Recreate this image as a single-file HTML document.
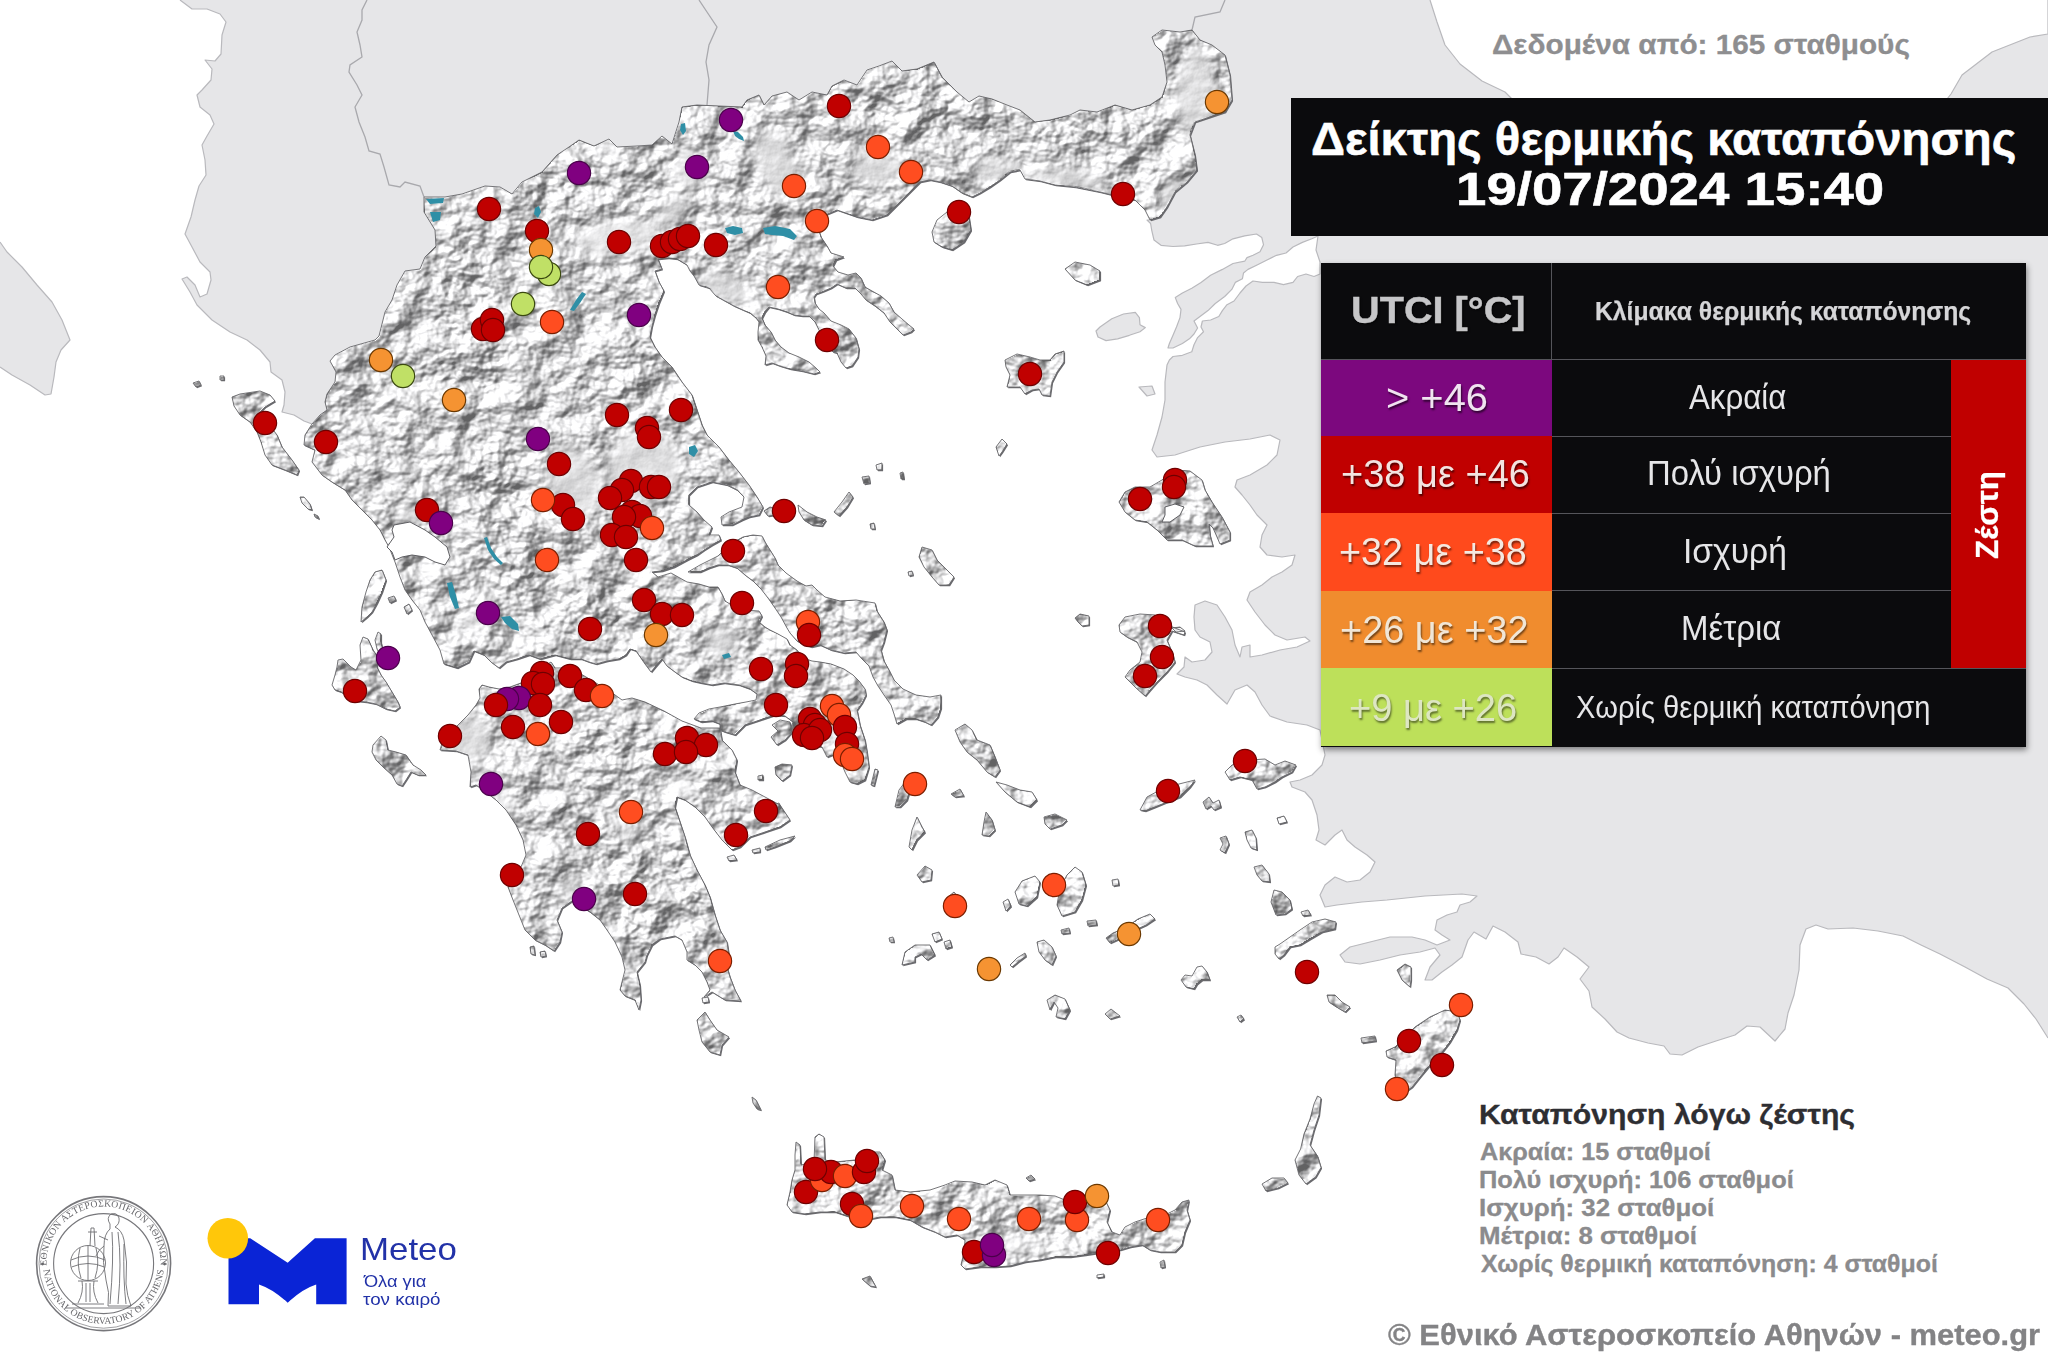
<!DOCTYPE html>
<html><head><meta charset="utf-8"><title>UTCI</title>
<style>
html,body{margin:0;padding:0;background:#fff;}
body{width:2048px;height:1360px;position:relative;overflow:hidden;font-family:"Liberation Sans",sans-serif;}
.abs{position:absolute;white-space:nowrap;line-height:1;}
.b{font-weight:bold;}
#title{position:absolute;left:1290.7px;top:98.1px;width:758px;height:138.1px;background:#0b0b0d;}
#legend{position:absolute;left:1321px;top:263px;width:704.7px;height:483.5px;background:#0b0b0d;box-shadow:1px 3px 6px rgba(0,0,0,.45);}
.cell{position:absolute;}
.hl{position:absolute;height:1.2px;background:#55555a;}
.vl{position:absolute;width:1.2px;background:#55555a;}

#t1,#t2{-webkit-text-stroke:0.55px #fff;}
#t0{-webkit-text-stroke:0.3px #8e8e90;}
#k0{-webkit-text-stroke:0.35px #2e2e32;}
#k1,#k2,#k3,#k4,#k5{-webkit-text-stroke:0.3px #8b8b8d;}
#cp{-webkit-text-stroke:0.35px #838385;}
#l0{-webkit-text-stroke:0.4px #c6c6c8;}
#l1{-webkit-text-stroke:0.25px #d6d6d8;}
#z{-webkit-text-stroke:0.3px #fff;}

</style></head><body>
<svg width="2048" height="1360" viewBox="0 0 2048 1360" style="position:absolute;left:0;top:0">
<defs>
<filter id="relief" x="0" y="0" width="2048" height="1360" filterUnits="userSpaceOnUse" color-interpolation-filters="sRGB">
<feColorMatrix in="SourceGraphic" type="matrix" values="0 0 0 0 0  0 0 0 0 0  0 0 0 0 0  1 0 0 0 0" result="amp"/>
<feTurbulence type="fractalNoise" baseFrequency="0.028 0.033" numOctaves="4" seed="11" result="n0"/>
<feGaussianBlur in="n0" stdDeviation="0.7" result="n"/>
<feComposite in="n" in2="amp" operator="arithmetic" k1="1" k2="0" k3="-0.5" k4="0.5" result="h"/>
<feDiffuseLighting in="h" surfaceScale="15.5" diffuseConstant="1" lighting-color="#ffffff" result="l">
<feDistantLight azimuth="225" elevation="45"/>
</feDiffuseLighting>
<feComponentTransfer in="l" result="l2"><feFuncR type="linear" slope="0.68" intercept="0.385"/><feFuncG type="linear" slope="0.68" intercept="0.385"/><feFuncB type="linear" slope="0.68" intercept="0.39"/></feComponentTransfer>
<feComposite in="l2" in2="SourceAlpha" operator="in"/>
</filter>
<filter id="blur6" x="-40%" y="-40%" width="180%" height="180%"><feGaussianBlur stdDeviation="6"/></filter>
<filter id="blur5" x="-30%" y="-30%" width="160%" height="160%"><feGaussianBlur stdDeviation="5"/></filter>
<filter id="soft" x="-5%" y="-5%" width="110%" height="110%"><feGaussianBlur stdDeviation="1.2"/></filter>
</defs>
<rect width="2048" height="1360" fill="#ffffff"/>
<g fill="#e6e6e8" stroke="none">
<path d="M0,242 7,252 22,267 37,285 52,302 62,320 70,340 61,350 56,362 54,377 51,394 45,395 30,385 12,375 0,367Z"/>
<path d="M180,0 192,9 207,9 220,14 226,22 222,35 221,54 215,61 205,60 212,69 211,80 202,90 197,95 200,107 210,115 214,124 207,136 202,145 205,160 206,175 199,186 195,200 191,217 185,234 192,247 200,262 210,272 211,280 207,294 200,297 195,285 187,277 182,279 190,292 197,305 212,320 230,332 247,340 260,350 270,362 271,372 282,380 285,392 284,405 282,412 294,415 304,421 312,424 320,415 327,410 325,402 327,394 335,382 336,372 330,361 335,355 350,347 375,340 379,336 380,332 385,312 392,300 397,285 405,271 420,269 425,257 436,246 435,230 424,212 424,197 445,197 462,194 485,186 500,187 512,194 522,182 542,172 557,155 569,147 579,140 594,146 609,139 617,147 637,146 652,145 662,136 672,144 679,122 682,107 697,105 719,106 742,107 747,100 759,95 764,105 772,96 787,92 799,100 812,92 827,95 832,86 844,80 857,85 867,70 879,66 892,61 902,71 917,69 934,62 942,77 957,92 969,102 979,96 992,99 1007,105 1020,110 1035,122 1050,120 1070,115 1080,110 1097,112 1115,105 1132,110 1150,105 1162,97 1167,82 1165,65 1162,52 1155,45 1152,37 1162,30 1180,32 1192,30 1200,40 1212,45 1225,55 1230,75 1232,100 1225,112 1210,117 1195,122 1190,135 1195,155 1197,170 1187,182 1175,192 1167,207 1160,217 1150,220 1147,220 1150.6,223.5 1151.8,230.6 1154,240 1161,245.3 1173,246.5 1184.7,245.9 1196.5,244 1208,242.4 1217.6,245.3 1224.7,243.5 1233,238.8 1244.7,235.9 1256.5,234 1261.8,237.6 1263.5,244.7 1260,251.8 1253,255.3 1247,257.6 1244.7,261.2 1233,263.5 1222.4,269.4 1210.6,275.3 1201,282.4 1191.8,288.2 1182.4,293 1175.3,297.6 1177.6,303.5 1181,309.4 1180,317.6 1176.5,327 1173,335.3 1169.4,343.5 1168,348 1173,348 1182.4,343.5 1189.4,338.8 1194,334 1197.6,328 1194,321 1200,316.5 1208,310.6 1215.3,303.5 1224.7,296.5 1231.8,289.4 1235.3,282.4 1242.4,278.8 1243.5,273 1248,269.4 1257.6,264.7 1267,260 1276.5,255.3 1286,253 1293,247 1302.4,242.4 1311.8,238.8 1318,236 2048,236 2048,0Z"/>
<path d="M1318,236 1316,250 1320,262 1320,274 1314,276.5 1306,274 1297.6,276.5 1293,282.4 1283.5,284.7 1274,282.4 1262.4,282.4 1253,281 1246,286 1240,293 1234,301 1227,304.7 1222.4,310.6 1218.8,316.5 1210.6,320 1202.4,321 1201,327 1203.5,331.8 1197.6,337.6 1194,344.7 1191.8,351.8 1182.4,355.3 1173,356.5 1169.4,360 1167,365 1165,382 1165,400 1162,417 1157,435 1152,450 1157,457 1175,455 1200,447 1225,442 1250,439 1270,435 1280,440 1277,455 1267,465 1250,475 1237,480 1235,487 1242,495 1250,505 1257,515 1267,525 1262,535 1260,547 1267,555 1282,557 1295,555 1292,565 1282,572 1272,577 1262,585 1250,592 1247,600 1255,612 1265,625 1275,635 1287,640 1305,637 1310,641 1297,647 1280,650 1262,655 1250,657 1250,645 1242,647 1240,657 1235,645 1232,630 1225,617 1217,605 1205,601 1195,605 1194,617 1195,630 1200,637 1210,642 1212,652 1205,660 1192,662 1185,657 1184,667 1177,674 1185,677 1197,680 1207,685 1217,695 1227,704 1235,690 1247,685 1255,692 1262,705 1270,716 1287,722 1307,725 1320,730 1325,755 1322,765 1312,775 1300,780 1290,782 1292,787 1305,792 1312,800 1317,815 1319,830 1316,840 1325,845 1335,835 1342,830 1347,840 1355,847 1367,855 1375,862 1370,872 1360,880 1347,882 1335,877 1325,885 1320,895 1325,907 1337,905 1362,902 1387,900 1425,896 1462,894 1477,896 1470,902 1460,905 1457,912 1447,915 1437,920 1435,930 1442,935 1450,940 1437,945 1425,940 1412,937 1390,937 1370,942 1350,947 1340,955 1345,962 1360,964 1380,960 1400,955 1420,952 1435,948 1440,955 1430,967 1425,980 1432,980 1442,972 1452,965 1462,957 1468,940 1474,932 1486,939 1493,926 1505,932 1518,942 1521,954 1536,957 1549,964 1558,957 1564,948 1577,957 1589,967 1580,979 1589,991 1592,1007 1605,1019 1617,1032 1629,1038 1648,1043 1664,1046 1670,1054 1682,1055 1698,1047 1716,1041 1735,1035 1747,1026 1760,1027 1775,1041 1785,1029 1788,1013 1794,995 1799,970 1800,945 1806,929 1816,925 1828,929 1853,928 1878,931 1903,936 1921,945 1940,954 1965,967 1987,979 2008,988 2024,1004 2036,1019 2048,1038 2048,1038 2048,236Z"/>
<path d="M1100,327 1111.8,318.8 1123.5,314 1135.3,312.4 1139.4,317.6 1140,324.7 1145.3,327.6 1140,331.8 1129.4,335.3 1117.6,338.8 1106,340.6 1098,337 1096,331Z"/><path d="M1139,387 1152,386 1155,394 1147,396Z"/>
</g>
<path d="M1430,0 1437,22 1445,45 1460,64 1482,81 1505,92 1512,99 1512,110 1947,110 1947,99 1951,94 1962,75 1992,52 2030,37 2048,34 2048,0Z" fill="#fff"/>
<g fill="none" stroke="#b9b9bd" stroke-width="1.2" stroke-linejoin="round">
<path d="M0,242 7,252 22,267 37,285 52,302 62,320 70,340 61,350 56,362 54,377 51,394 45,395 30,385 12,375 0,367"/>
<path d="M180,0 192,9 207,9 220,14 226,22 222,35 221,54 215,61 205,60 212,69 211,80 202,90 197,95 200,107 210,115 214,124 207,136 202,145 205,160 206,175 199,186 195,200 191,217 185,234 192,247 200,262 210,272 211,280 207,294 200,297 195,285 187,277 182,279 190,292 197,305 212,320 230,332 247,340 260,350 270,362 271,372 282,380 285,392 284,405 282,412 294,415 304,421 312,424"/>
<path d="M1150,220 1147,220 1150.6,223.5 1151.8,230.6 1154,240 1161,245.3 1173,246.5 1184.7,245.9 1196.5,244 1208,242.4 1217.6,245.3 1224.7,243.5 1233,238.8 1244.7,235.9 1256.5,234 1261.8,237.6 1263.5,244.7 1260,251.8 1253,255.3 1247,257.6 1244.7,261.2 1233,263.5 1222.4,269.4 1210.6,275.3 1201,282.4 1191.8,288.2 1182.4,293 1175.3,297.6 1177.6,303.5 1181,309.4 1180,317.6 1176.5,327 1173,335.3 1169.4,343.5 1168,348 1173,348 1182.4,343.5 1189.4,338.8 1194,334 1197.6,328 1194,321 1200,316.5 1208,310.6 1215.3,303.5 1224.7,296.5 1231.8,289.4 1235.3,282.4 1242.4,278.8 1243.5,273 1248,269.4 1257.6,264.7 1267,260 1276.5,255.3 1286,253 1293,247 1302.4,242.4 1311.8,238.8 1318,236"/>
<path d="M1318,236 1316,250 1320,262 1320,274 1314,276.5 1306,274 1297.6,276.5 1293,282.4 1283.5,284.7 1274,282.4 1262.4,282.4 1253,281 1246,286 1240,293 1234,301 1227,304.7 1222.4,310.6 1218.8,316.5 1210.6,320 1202.4,321 1201,327 1203.5,331.8 1197.6,337.6 1194,344.7 1191.8,351.8 1182.4,355.3 1173,356.5 1169.4,360 1167,365 1165,382 1165,400 1162,417 1157,435 1152,450 1157,457 1175,455 1200,447 1225,442 1250,439 1270,435 1280,440 1277,455 1267,465 1250,475 1237,480 1235,487 1242,495 1250,505 1257,515 1267,525 1262,535 1260,547 1267,555 1282,557 1295,555 1292,565 1282,572 1272,577 1262,585 1250,592 1247,600 1255,612 1265,625 1275,635 1287,640 1305,637 1310,641 1297,647 1280,650 1262,655 1250,657 1250,645 1242,647 1240,657 1235,645 1232,630 1225,617 1217,605 1205,601 1195,605 1194,617 1195,630 1200,637 1210,642 1212,652 1205,660 1192,662 1185,657 1184,667 1177,674 1185,677 1197,680 1207,685 1217,695 1227,704 1235,690 1247,685 1255,692 1262,705 1270,716 1287,722 1307,725 1320,730 1325,755 1322,765 1312,775 1300,780 1290,782 1292,787 1305,792 1312,800 1317,815 1319,830 1316,840 1325,845 1335,835 1342,830 1347,840 1355,847 1367,855 1375,862 1370,872 1360,880 1347,882 1335,877 1325,885 1320,895 1325,907 1337,905 1362,902 1387,900 1425,896 1462,894 1477,896 1470,902 1460,905 1457,912 1447,915 1437,920 1435,930 1442,935 1450,940 1437,945 1425,940 1412,937 1390,937 1370,942 1350,947 1340,955 1345,962 1360,964 1380,960 1400,955 1420,952 1435,948 1440,955 1430,967 1425,980 1432,980 1442,972 1452,965 1462,957 1468,940 1474,932 1486,939 1493,926 1505,932 1518,942 1521,954 1536,957 1549,964 1558,957 1564,948 1577,957 1589,967 1580,979 1589,991 1592,1007 1605,1019 1617,1032 1629,1038 1648,1043 1664,1046 1670,1054 1682,1055 1698,1047 1716,1041 1735,1035 1747,1026 1760,1027 1775,1041 1785,1029 1788,1013 1794,995 1799,970 1800,945 1806,929 1816,925 1828,929 1853,928 1878,931 1903,936 1921,945 1940,954 1965,967 1987,979 2008,988 2024,1004 2036,1019 2048,1038"/>
<path d="M1430,0 1437,22 1445,45 1460,64 1482,81 1505,92 1512,99"/>
<path d="M1947,99 1951,94 1962,75 1992,52 2030,37 2048,34 2048,0"/>
<path d="M1100,327 1111.8,318.8 1123.5,314 1135.3,312.4 1139.4,317.6 1140,324.7 1145.3,327.6 1140,331.8 1129.4,335.3 1117.6,338.8 1106,340.6 1098,337 1096,331Z"/><path d="M1139,387 1152,386 1155,394 1147,396Z"/>
</g>
<g fill="none" stroke="#a9a9ad" stroke-width="1.3">
<path d="M367,0 362,10 362,20 357,32 360,45 362,57 350,65 349,72 357,85 362,95 355,107 359,122 365,137 369,151 380,154 384,167 389,185 400,187 405,182 420,186 424,197"/>
<path d="M699,0 707,12 717,27 709,45 706,62 709,80 707,105"/>
<path d="M1225,0 1220,12 1195,17 1192,30"/>
</g>
<path d="M424,197 445,197 462,194 485,186 500,187 512,194 522,182 542,172 557,155 569,147 579,140 594,146 609,139 617,147 637,146 652,145 662,136 672,144 679,122 682,107 697,105 719,106 742,107 747,100 759,95 764,105 772,96 787,92 799,100 812,92 827,95 832,86 844,80 857,85 867,70 879,66 892,61 902,71 917,69 934,62 942,77 957,92 969,102 979,96 992,99 1007,105 1020,110 1035,122 1050,120 1070,115 1080,110 1097,112 1115,105 1132,110 1150,105 1162,97 1167,82 1165,65 1162,52 1155,45 1152,37 1162,30 1180,32 1192,30 1200,40 1212,45 1225,55 1230,75 1232,100 1225,112 1210,117 1195,122 1190,135 1195,155 1197,170 1187,182 1175,192 1167,207 1160,217 1150,220 1145,210 1135,200 1120,197 1100,192 1075,187 1055,185 1040,181 1025,179 1020,170 1010,172 1000,180 990,187 980,193 972,197 962,193 952,186 940,182 930,180 920,182 912,190 902,200 887,215 872,220 857,217 837,210 825,215 816,222 821,237 827,246 831,253 844,257 836,260 833,266 838,272 848,275 856,273 861,278 865,287 872,291 881,296 889,303 894,312 902,319 909,325 914,329 911,332 903,335 897,329 890,322 884,313 875,306 866,300 861,294 855,288 846,288 837,284 831,288 824,291 816,294 814,297 815,303 819,309 824,313 831,321 841,325 849,329 856,338 859,349 858,357 852,366 846,368 841,362 837,353 833,352 826,345 820,332 815,322 809,316 802,316 794,315 787,312 778,309 769,307 765,312 762,318 765,325 771,332 775,340 781,347 789,353 799,357 809,362 816,368 820,372 814,374 802,371 790,369 780,366 772,363 765,365 766,356 762,347 758,340 758,332 759,322 756,318 750,313 743,310 734,306 725,301 716,296 709,288 699,285 694,276 690,271 687,265 677,259 668,258 658,259 662,269 655,271 659,282 664,291 659,303 655,315 652,326 650,337 655,347 662,357 672,367 682,382 692,395 697,410 702,425 707,435 719,447 729,460 739,472 749,485 757,497 763,507 759,515 749,517 742,520 732,525 722,525 721,517 729,512 742,507 744,497 737,490 727,485 712,482 697,487 689,495 689,505 697,512 704,520 712,527 709,535 719,535 721,540 712,545 704,550 697,555 687,560 674,567 662,571 652,572 658,577 671,573 687,582 699,584 709,587 718,587 722,594 725,601 740,610 759,611 762,616 759,622 765,627 770,630 778,634 787,639 790,645 797,650 803,658 812,661 820,662 831,664 844,669 853,675 859,681 865,689 866,695 862,703 857,710 860,725 865,740 867,752 869,767 865,780 857,784 850,782 845,772 840,760 832,755 827,757 822,747 812,745 802,745 795,735 790,730 793,722 785,716 775,715 760,720 745,725 735,735 725,732 720,730 720,724 712,721 701,722 694,719 699,713 709,709 720,707 735,704 746,702 756,700 757,694 750,689 739,685 724,683 712,685 701,683 692,681 682,677 675,672 667,666 662,659 656,666 651,672 645,664 636,651 630,649 626,655 619,659 607,661 596,664 589,662 581,659 570,659 555,655 540,659 529,655 517,659 506,662 499,668 491,662 484,655 474,651 469,662 457,668 444,664 440,650 432,635 425,622 420,610 412,600 405,590 400,577 395,562 389,547 385,540 380,530 372,520 362,510 352,500 345,490 332,482 322,475 312,462 315,450 304,445 305,435 312,424 320,415 327,410 325,402 327,394 335,382 336,372 330,361 335,355 350,347 375,340 379,336 380,332 385,312 392,300 397,285 405,271 420,269 425,257 436,246 435,230 424,212 424,197Z M720,728 722,740 732,750 737,760 735,772 740,785 752,790 765,797 780,805 790,820 780,827 765,832 750,837 740,847 732,850 722,840 712,827 705,817 695,807 685,800 677,797 675,807 680,822 685,837 690,855 697,870 705,885 710,897 715,915 720,930 727,942 729,955 727,967 730,977 735,990 741,1001 725,1000 712,992 704,997 710,990 707,982 702,972 695,965 687,960 687,952 682,940 675,936 660,939 652,945 647,955 645,962 637,972 640,985 641,1000 639,1010 635,1000 625,996 620,990 622,982 625,970 622,957 615,942 607,930 600,920 590,912 572,901 562,908 557,920 562,932 560,942 554,951 545,945 535,940 525,930 519,915 513,900 508,887 513,877 521,867 526,855 523,840 516,825 506,810 496,800 486,792 476,785 470,787 471,772 468,755 456,751 440,750 443,740 456,727 468,715 476,705 480,698 479,689 482,685 489,687 499,689 510,687 521,683 532,676 541,668 551,662 555,668 566,668 581,674 596,683 611,692 622,700 632,698 645,702 664,711 682,721 701,728Z M688,572 700,565 710,560 718,556 724,550 734,542 743,537 753,535 762,536 765,542 770,550 775,558 778,565 786,573 797,581 806,586 812,585 817,590 825,597 840,601 856,600 875,603 877,611 884,622 887,630 884,642 881,650 884,661 889,670 894,680 903,689 916,695 930,697 941,695 941,708 938,717 931,725 925,722 916,719 906,719 897,724 894,714 891,705 884,695 878,686 873,677 869,666 862,659 856,652 844,653 831,650 820,645 811,647 803,644 797,641 790,633 787,628 781,617 775,608 768,598 761,589 753,581 745,575 737,568 728,565 718,565 709,568 700,572Z M232,397 240,394 260,391 270,395 275,401 265,407 260,412 267,422 277,435 282,447 292,460 299,470 297,475 285,470 272,465 265,455 261,442 257,432 250,422 240,415 234,406Z M300,497 304,497 310,504 312,510 308,509 302,503Z M314,514 318,516 319,519 315,517Z M193,383 199,381 201,385 196,387Z M220,376 224,376 224,380 220,380Z M375,572 382,570 386,580 382,592 377,603 372,612 367,617 361,622 362,607 366,592 370,580Z M338,660 343,659 351,667 356,670 361,660 360,645 363,637 368,639 373,650 378,657 377,667 381,675 386,682 392,692 398,702 400,707 395,711 386,709 376,704 366,702 356,701 348,697 341,692 335,690 332,685 335,675 337,667Z M375,640 378,632 381,634 381,642 383,650 380,655 377,649Z M373,745 381,736 386,740 388,750 396,752 406,755 413,765 421,770 426,775 418,775 411,772 406,780 402,786 397,784 392,775 383,767 376,760 372,752Z M388,598 394,596 396,600 390,603Z M404,607 409,604 412,610 407,614Z M932,232 937,220 947,212 962,210 969,217 971,230 964,242 952,250 942,247 934,242Z M1065,269 1075,262 1090,265 1100,271 1100,280 1087,285 1075,280Z M1005,360 1017,354 1030,357 1040,360 1050,360 1055,354 1064,351 1064,362 1057,372 1052,382 1050,396 1042,395 1039,389 1032,390 1025,394 1020,387 1007,387 1010,375 1006,367Z M996,447 1002,439 1007,444 1002,452 999,456Z M1119,502 1125,492 1135,487 1150,487 1162,480 1175,470 1190,471 1202,480 1205,490 1212,502 1222,517 1230,532 1230,540 1220,544 1217,537 1213,528 1209,524 1210,535 1213,546 1195,546 1182,540 1167,540 1157,530 1147,522 1135,520 1125,512Z M764,511 770,507 777,509 775,515 768,516Z M798,505 807,512 817,517 826,520 822,526 812,525 804,520 799,512Z M834,512 842,502 849,492 853,497 847,507 839,516Z M862,477 869,476 870,483 864,484Z M876,465 882,463 882,470 877,470Z M900,473 903,472 904,479 901,479Z M870,524 874,523 875,529 871,529Z M922,547 932,550 937,560 947,570 954,577 949,585 939,585 932,577 924,567 919,557Z M908,572 912,571 913,575 909,576Z M1075,618 1080,614 1089,616 1089,625 1082,626 1078,622Z M1119,625 1125,617 1140,614 1155,615 1170,626 1185,632 1184,635 1172,631 1167,640 1172,652 1175,662 1167,672 1157,682 1150,690 1145,696 1135,687 1125,677 1130,670 1140,662 1142,652 1137,642 1127,637 1120,632Z M1225,772 1232,765 1250,760 1265,759 1275,765 1285,761 1296,765 1292,772 1282,777 1275,782 1265,787 1257,789 1252,780 1240,777 1230,780Z M1140,810 1147,797 1160,790 1175,785 1195,780 1190,787 1180,797 1167,802 1155,807 1145,811Z M1203,802 1209,797 1213,803 1219,800 1221,807 1214,810 1211,806 1206,809Z M1220,838 1226,836 1229,844 1225,853 1220,850 1223,844Z M1245,832 1252,830 1256,838 1257,850 1251,848 1247,840Z M1277,818 1284,816 1287,822 1279,824Z M1254,867 1262,865 1269,874 1270,882 1262,881 1257,875Z M1271,902 1274,890 1282,892 1290,900 1292,909 1285,914 1276,915Z M1301,912 1308,910 1311,915 1303,916Z M1275,947 1280,944 1290,937 1300,930 1312,922 1325,919 1336,922 1335,929 1322,932 1310,939 1300,945 1290,947 1284,955 1279,959 1275,954Z M1237,1017 1241,1015 1244,1019 1240,1022Z M1327,995 1335,995 1342,1002 1350,1007 1345,1012 1335,1006 1329,1002Z M1397,970 1405,964 1411,967 1411,980 1410,987 1402,980Z M1361,1038 1375,1036 1376,1041 1362,1043Z M1457,1012 1445,1010 1430,1017 1415,1027 1405,1037 1395,1047 1386,1051 1387,1057 1396,1060 1395,1075 1397,1085 1405,1092 1412,1087 1420,1077 1430,1065 1440,1055 1450,1042 1457,1030 1460,1020Z M1317.5,1096 1321,1098 1319,1115 1314,1130 1310,1145 1317.5,1156 1321,1167.5 1315.6,1177 1306,1184 1299,1175 1295,1160 1300.6,1149 1304,1134 1310,1119 1314,1104Z M1262,1184 1272,1178 1284,1178 1288,1183 1278,1188 1266,1191Z M1181,980 1185,975 1192,976 1197,967 1202,966 1207,972 1210,980 1202,980 1197,984 1194,989 1186,987Z M1106,938 1113,933 1125,928 1138,919 1150,914 1155,919 1146,925 1133,931 1121,938 1110,943Z M1057,905 1062,916 1075,912 1082,900 1086,885 1082,872 1075,867 1067,875 1060,888Z M1015,892 1022,881 1035,876 1040,882 1037,897 1027,906 1019,904Z M1003,902 1008,899 1011,906 1006,911Z M1037,942 1044,940 1052,947 1056,956 1052,965 1045,960 1039,952Z M1010,965 1017,958 1025,953 1026,956 1018,962 1012,967Z M985,972 992,966 996,968 990,975Z M1047,1000 1055,995 1065,999 1070,1010 1065,1019 1056,1017 1058,1008 1054,1002 1050,1010Z M1105,1014 1111,1009 1120,1016 1110,1019Z M1061,930 1069,928 1070,933 1062,934Z M1087,921 1096,920 1097,925 1088,926Z M1112,880 1118,879 1119,885 1113,886Z M1044,817 1055,814 1067,820 1062,825 1050,829 1045,824Z M996,782 1007,785 1020,790 1032,792 1037,800 1030,807 1017,802 1005,792Z M955,730 965,724 972,730 977,740 990,745 995,757 1000,770 995,777 987,772 977,760 967,752 960,742Z M982,835 984,822 986,812 992,820 995,830 989,836Z M951,794 960,789 964,796 955,797Z M895,807 899,790 905,782 910,790 907,800 900,807Z M871,785 875,769 878,770 874,786Z M909,847 912,830 917,817 922,827 925,832 917,840 912,850Z M917,875 925,866 932,870 931,880 922,882Z M948,897 954,892 960,900 962,912 956,916 950,908Z M902,965 905,952 915,945 930,945 935,955 927,960 921,954 915,957 915,962Z M932,934 939,932 942,939 935,942Z M944,942 950,940 952,947 946,949Z M889,938 893,937 894,942 890,942Z M775,767 782,764 792,765 790,775 782,781 776,775Z M772,725 780,720 790,722 792,732 785,740 777,745 771,737 778,731Z M758,776 763,775 763,780 758,780Z M770,806 779,803 781,808 772,810Z M765,847 780,840 795,836 790,841 775,847 766,850Z M752,850 760,848 760,852 753,853Z M727,857 734,855 737,860 729,861Z M697,1020 705,1012 710,1020 717,1030 729,1037 722,1045 720,1055 710,1052 702,1042 699,1030Z M752,1097 756,1100 761,1110 757,1109 753,1103Z M702,998 708,997 709,1002 703,1003Z M530,947 534,946 535,955 531,954Z M540,952 545,951 546,956 541,957Z M796,1142 800,1145 801,1165 814,1162 815,1137 819,1134 824,1137 825,1160 835,1162 855,1160 865,1152 880,1152 885,1160 882,1170 892,1175 895,1190 910,1192 930,1190 945,1185 955,1181 972,1182 985,1185 995,1180 1007,1185 1010,1195 1025,1195 1040,1195 1055,1196 1065,1200 1085,1195 1105,1200 1110,1210 1107,1222 1112,1232 1120,1235 1125,1227 1135,1222 1150,1217 1165,1215 1175,1210 1182,1202 1189,1200 1187,1210 1190,1220 1185,1232 1182,1245 1175,1252 1160,1252 1150,1250 1142,1245 1130,1247 1120,1250 1105,1252 1085,1255 1070,1257 1055,1257 1040,1260 1025,1262 1010,1266 995,1267 980,1267 965,1269 961,1265 964,1252 965,1240 957,1235 945,1237 935,1232 922,1227 910,1220 895,1217 880,1217 865,1220 850,1217 835,1212 820,1212 805,1214 792,1212 787,1205 790,1192 792,1180 795,1170 795,1155Z M862,1279 870,1276 876,1287 870,1286Z M1026,1178 1031,1175 1035,1179 1029,1181Z M1097,1275 1104,1274 1104,1277 1097,1278Z M1160,1262 1164,1260 1165,1267 1161,1268Z M1172,628 1180,627 1185,631 1176,632Z" fill="#6a6a6e" transform="translate(1.1,1.3)"/>
<clipPath id="grclip"><path d="M424,197 445,197 462,194 485,186 500,187 512,194 522,182 542,172 557,155 569,147 579,140 594,146 609,139 617,147 637,146 652,145 662,136 672,144 679,122 682,107 697,105 719,106 742,107 747,100 759,95 764,105 772,96 787,92 799,100 812,92 827,95 832,86 844,80 857,85 867,70 879,66 892,61 902,71 917,69 934,62 942,77 957,92 969,102 979,96 992,99 1007,105 1020,110 1035,122 1050,120 1070,115 1080,110 1097,112 1115,105 1132,110 1150,105 1162,97 1167,82 1165,65 1162,52 1155,45 1152,37 1162,30 1180,32 1192,30 1200,40 1212,45 1225,55 1230,75 1232,100 1225,112 1210,117 1195,122 1190,135 1195,155 1197,170 1187,182 1175,192 1167,207 1160,217 1150,220 1145,210 1135,200 1120,197 1100,192 1075,187 1055,185 1040,181 1025,179 1020,170 1010,172 1000,180 990,187 980,193 972,197 962,193 952,186 940,182 930,180 920,182 912,190 902,200 887,215 872,220 857,217 837,210 825,215 816,222 821,237 827,246 831,253 844,257 836,260 833,266 838,272 848,275 856,273 861,278 865,287 872,291 881,296 889,303 894,312 902,319 909,325 914,329 911,332 903,335 897,329 890,322 884,313 875,306 866,300 861,294 855,288 846,288 837,284 831,288 824,291 816,294 814,297 815,303 819,309 824,313 831,321 841,325 849,329 856,338 859,349 858,357 852,366 846,368 841,362 837,353 833,352 826,345 820,332 815,322 809,316 802,316 794,315 787,312 778,309 769,307 765,312 762,318 765,325 771,332 775,340 781,347 789,353 799,357 809,362 816,368 820,372 814,374 802,371 790,369 780,366 772,363 765,365 766,356 762,347 758,340 758,332 759,322 756,318 750,313 743,310 734,306 725,301 716,296 709,288 699,285 694,276 690,271 687,265 677,259 668,258 658,259 662,269 655,271 659,282 664,291 659,303 655,315 652,326 650,337 655,347 662,357 672,367 682,382 692,395 697,410 702,425 707,435 719,447 729,460 739,472 749,485 757,497 763,507 759,515 749,517 742,520 732,525 722,525 721,517 729,512 742,507 744,497 737,490 727,485 712,482 697,487 689,495 689,505 697,512 704,520 712,527 709,535 719,535 721,540 712,545 704,550 697,555 687,560 674,567 662,571 652,572 658,577 671,573 687,582 699,584 709,587 718,587 722,594 725,601 740,610 759,611 762,616 759,622 765,627 770,630 778,634 787,639 790,645 797,650 803,658 812,661 820,662 831,664 844,669 853,675 859,681 865,689 866,695 862,703 857,710 860,725 865,740 867,752 869,767 865,780 857,784 850,782 845,772 840,760 832,755 827,757 822,747 812,745 802,745 795,735 790,730 793,722 785,716 775,715 760,720 745,725 735,735 725,732 720,730 720,724 712,721 701,722 694,719 699,713 709,709 720,707 735,704 746,702 756,700 757,694 750,689 739,685 724,683 712,685 701,683 692,681 682,677 675,672 667,666 662,659 656,666 651,672 645,664 636,651 630,649 626,655 619,659 607,661 596,664 589,662 581,659 570,659 555,655 540,659 529,655 517,659 506,662 499,668 491,662 484,655 474,651 469,662 457,668 444,664 440,650 432,635 425,622 420,610 412,600 405,590 400,577 395,562 389,547 385,540 380,530 372,520 362,510 352,500 345,490 332,482 322,475 312,462 315,450 304,445 305,435 312,424 320,415 327,410 325,402 327,394 335,382 336,372 330,361 335,355 350,347 375,340 379,336 380,332 385,312 392,300 397,285 405,271 420,269 425,257 436,246 435,230 424,212 424,197Z M720,728 722,740 732,750 737,760 735,772 740,785 752,790 765,797 780,805 790,820 780,827 765,832 750,837 740,847 732,850 722,840 712,827 705,817 695,807 685,800 677,797 675,807 680,822 685,837 690,855 697,870 705,885 710,897 715,915 720,930 727,942 729,955 727,967 730,977 735,990 741,1001 725,1000 712,992 704,997 710,990 707,982 702,972 695,965 687,960 687,952 682,940 675,936 660,939 652,945 647,955 645,962 637,972 640,985 641,1000 639,1010 635,1000 625,996 620,990 622,982 625,970 622,957 615,942 607,930 600,920 590,912 572,901 562,908 557,920 562,932 560,942 554,951 545,945 535,940 525,930 519,915 513,900 508,887 513,877 521,867 526,855 523,840 516,825 506,810 496,800 486,792 476,785 470,787 471,772 468,755 456,751 440,750 443,740 456,727 468,715 476,705 480,698 479,689 482,685 489,687 499,689 510,687 521,683 532,676 541,668 551,662 555,668 566,668 581,674 596,683 611,692 622,700 632,698 645,702 664,711 682,721 701,728Z M688,572 700,565 710,560 718,556 724,550 734,542 743,537 753,535 762,536 765,542 770,550 775,558 778,565 786,573 797,581 806,586 812,585 817,590 825,597 840,601 856,600 875,603 877,611 884,622 887,630 884,642 881,650 884,661 889,670 894,680 903,689 916,695 930,697 941,695 941,708 938,717 931,725 925,722 916,719 906,719 897,724 894,714 891,705 884,695 878,686 873,677 869,666 862,659 856,652 844,653 831,650 820,645 811,647 803,644 797,641 790,633 787,628 781,617 775,608 768,598 761,589 753,581 745,575 737,568 728,565 718,565 709,568 700,572Z M232,397 240,394 260,391 270,395 275,401 265,407 260,412 267,422 277,435 282,447 292,460 299,470 297,475 285,470 272,465 265,455 261,442 257,432 250,422 240,415 234,406Z M300,497 304,497 310,504 312,510 308,509 302,503Z M314,514 318,516 319,519 315,517Z M193,383 199,381 201,385 196,387Z M220,376 224,376 224,380 220,380Z M375,572 382,570 386,580 382,592 377,603 372,612 367,617 361,622 362,607 366,592 370,580Z M338,660 343,659 351,667 356,670 361,660 360,645 363,637 368,639 373,650 378,657 377,667 381,675 386,682 392,692 398,702 400,707 395,711 386,709 376,704 366,702 356,701 348,697 341,692 335,690 332,685 335,675 337,667Z M375,640 378,632 381,634 381,642 383,650 380,655 377,649Z M373,745 381,736 386,740 388,750 396,752 406,755 413,765 421,770 426,775 418,775 411,772 406,780 402,786 397,784 392,775 383,767 376,760 372,752Z M388,598 394,596 396,600 390,603Z M404,607 409,604 412,610 407,614Z M932,232 937,220 947,212 962,210 969,217 971,230 964,242 952,250 942,247 934,242Z M1065,269 1075,262 1090,265 1100,271 1100,280 1087,285 1075,280Z M1005,360 1017,354 1030,357 1040,360 1050,360 1055,354 1064,351 1064,362 1057,372 1052,382 1050,396 1042,395 1039,389 1032,390 1025,394 1020,387 1007,387 1010,375 1006,367Z M996,447 1002,439 1007,444 1002,452 999,456Z M1119,502 1125,492 1135,487 1150,487 1162,480 1175,470 1190,471 1202,480 1205,490 1212,502 1222,517 1230,532 1230,540 1220,544 1217,537 1213,528 1209,524 1210,535 1213,546 1195,546 1182,540 1167,540 1157,530 1147,522 1135,520 1125,512Z M764,511 770,507 777,509 775,515 768,516Z M798,505 807,512 817,517 826,520 822,526 812,525 804,520 799,512Z M834,512 842,502 849,492 853,497 847,507 839,516Z M862,477 869,476 870,483 864,484Z M876,465 882,463 882,470 877,470Z M900,473 903,472 904,479 901,479Z M870,524 874,523 875,529 871,529Z M922,547 932,550 937,560 947,570 954,577 949,585 939,585 932,577 924,567 919,557Z M908,572 912,571 913,575 909,576Z M1075,618 1080,614 1089,616 1089,625 1082,626 1078,622Z M1119,625 1125,617 1140,614 1155,615 1170,626 1185,632 1184,635 1172,631 1167,640 1172,652 1175,662 1167,672 1157,682 1150,690 1145,696 1135,687 1125,677 1130,670 1140,662 1142,652 1137,642 1127,637 1120,632Z M1225,772 1232,765 1250,760 1265,759 1275,765 1285,761 1296,765 1292,772 1282,777 1275,782 1265,787 1257,789 1252,780 1240,777 1230,780Z M1140,810 1147,797 1160,790 1175,785 1195,780 1190,787 1180,797 1167,802 1155,807 1145,811Z M1203,802 1209,797 1213,803 1219,800 1221,807 1214,810 1211,806 1206,809Z M1220,838 1226,836 1229,844 1225,853 1220,850 1223,844Z M1245,832 1252,830 1256,838 1257,850 1251,848 1247,840Z M1277,818 1284,816 1287,822 1279,824Z M1254,867 1262,865 1269,874 1270,882 1262,881 1257,875Z M1271,902 1274,890 1282,892 1290,900 1292,909 1285,914 1276,915Z M1301,912 1308,910 1311,915 1303,916Z M1275,947 1280,944 1290,937 1300,930 1312,922 1325,919 1336,922 1335,929 1322,932 1310,939 1300,945 1290,947 1284,955 1279,959 1275,954Z M1237,1017 1241,1015 1244,1019 1240,1022Z M1327,995 1335,995 1342,1002 1350,1007 1345,1012 1335,1006 1329,1002Z M1397,970 1405,964 1411,967 1411,980 1410,987 1402,980Z M1361,1038 1375,1036 1376,1041 1362,1043Z M1457,1012 1445,1010 1430,1017 1415,1027 1405,1037 1395,1047 1386,1051 1387,1057 1396,1060 1395,1075 1397,1085 1405,1092 1412,1087 1420,1077 1430,1065 1440,1055 1450,1042 1457,1030 1460,1020Z M1317.5,1096 1321,1098 1319,1115 1314,1130 1310,1145 1317.5,1156 1321,1167.5 1315.6,1177 1306,1184 1299,1175 1295,1160 1300.6,1149 1304,1134 1310,1119 1314,1104Z M1262,1184 1272,1178 1284,1178 1288,1183 1278,1188 1266,1191Z M1181,980 1185,975 1192,976 1197,967 1202,966 1207,972 1210,980 1202,980 1197,984 1194,989 1186,987Z M1106,938 1113,933 1125,928 1138,919 1150,914 1155,919 1146,925 1133,931 1121,938 1110,943Z M1057,905 1062,916 1075,912 1082,900 1086,885 1082,872 1075,867 1067,875 1060,888Z M1015,892 1022,881 1035,876 1040,882 1037,897 1027,906 1019,904Z M1003,902 1008,899 1011,906 1006,911Z M1037,942 1044,940 1052,947 1056,956 1052,965 1045,960 1039,952Z M1010,965 1017,958 1025,953 1026,956 1018,962 1012,967Z M985,972 992,966 996,968 990,975Z M1047,1000 1055,995 1065,999 1070,1010 1065,1019 1056,1017 1058,1008 1054,1002 1050,1010Z M1105,1014 1111,1009 1120,1016 1110,1019Z M1061,930 1069,928 1070,933 1062,934Z M1087,921 1096,920 1097,925 1088,926Z M1112,880 1118,879 1119,885 1113,886Z M1044,817 1055,814 1067,820 1062,825 1050,829 1045,824Z M996,782 1007,785 1020,790 1032,792 1037,800 1030,807 1017,802 1005,792Z M955,730 965,724 972,730 977,740 990,745 995,757 1000,770 995,777 987,772 977,760 967,752 960,742Z M982,835 984,822 986,812 992,820 995,830 989,836Z M951,794 960,789 964,796 955,797Z M895,807 899,790 905,782 910,790 907,800 900,807Z M871,785 875,769 878,770 874,786Z M909,847 912,830 917,817 922,827 925,832 917,840 912,850Z M917,875 925,866 932,870 931,880 922,882Z M948,897 954,892 960,900 962,912 956,916 950,908Z M902,965 905,952 915,945 930,945 935,955 927,960 921,954 915,957 915,962Z M932,934 939,932 942,939 935,942Z M944,942 950,940 952,947 946,949Z M889,938 893,937 894,942 890,942Z M775,767 782,764 792,765 790,775 782,781 776,775Z M772,725 780,720 790,722 792,732 785,740 777,745 771,737 778,731Z M758,776 763,775 763,780 758,780Z M770,806 779,803 781,808 772,810Z M765,847 780,840 795,836 790,841 775,847 766,850Z M752,850 760,848 760,852 753,853Z M727,857 734,855 737,860 729,861Z M697,1020 705,1012 710,1020 717,1030 729,1037 722,1045 720,1055 710,1052 702,1042 699,1030Z M752,1097 756,1100 761,1110 757,1109 753,1103Z M702,998 708,997 709,1002 703,1003Z M530,947 534,946 535,955 531,954Z M540,952 545,951 546,956 541,957Z M796,1142 800,1145 801,1165 814,1162 815,1137 819,1134 824,1137 825,1160 835,1162 855,1160 865,1152 880,1152 885,1160 882,1170 892,1175 895,1190 910,1192 930,1190 945,1185 955,1181 972,1182 985,1185 995,1180 1007,1185 1010,1195 1025,1195 1040,1195 1055,1196 1065,1200 1085,1195 1105,1200 1110,1210 1107,1222 1112,1232 1120,1235 1125,1227 1135,1222 1150,1217 1165,1215 1175,1210 1182,1202 1189,1200 1187,1210 1190,1220 1185,1232 1182,1245 1175,1252 1160,1252 1150,1250 1142,1245 1130,1247 1120,1250 1105,1252 1085,1255 1070,1257 1055,1257 1040,1260 1025,1262 1010,1266 995,1267 980,1267 965,1269 961,1265 964,1252 965,1240 957,1235 945,1237 935,1232 922,1227 910,1220 895,1217 880,1217 865,1220 850,1217 835,1212 820,1212 805,1214 792,1212 787,1205 790,1192 792,1180 795,1170 795,1155Z M862,1279 870,1276 876,1287 870,1286Z M1026,1178 1031,1175 1035,1179 1029,1181Z M1097,1275 1104,1274 1104,1277 1097,1278Z M1160,1262 1164,1260 1165,1267 1161,1268Z M1172,628 1180,627 1185,631 1176,632Z"/></clipPath>
<g filter="url(#relief)">
<path d="M424,197 445,197 462,194 485,186 500,187 512,194 522,182 542,172 557,155 569,147 579,140 594,146 609,139 617,147 637,146 652,145 662,136 672,144 679,122 682,107 697,105 719,106 742,107 747,100 759,95 764,105 772,96 787,92 799,100 812,92 827,95 832,86 844,80 857,85 867,70 879,66 892,61 902,71 917,69 934,62 942,77 957,92 969,102 979,96 992,99 1007,105 1020,110 1035,122 1050,120 1070,115 1080,110 1097,112 1115,105 1132,110 1150,105 1162,97 1167,82 1165,65 1162,52 1155,45 1152,37 1162,30 1180,32 1192,30 1200,40 1212,45 1225,55 1230,75 1232,100 1225,112 1210,117 1195,122 1190,135 1195,155 1197,170 1187,182 1175,192 1167,207 1160,217 1150,220 1145,210 1135,200 1120,197 1100,192 1075,187 1055,185 1040,181 1025,179 1020,170 1010,172 1000,180 990,187 980,193 972,197 962,193 952,186 940,182 930,180 920,182 912,190 902,200 887,215 872,220 857,217 837,210 825,215 816,222 821,237 827,246 831,253 844,257 836,260 833,266 838,272 848,275 856,273 861,278 865,287 872,291 881,296 889,303 894,312 902,319 909,325 914,329 911,332 903,335 897,329 890,322 884,313 875,306 866,300 861,294 855,288 846,288 837,284 831,288 824,291 816,294 814,297 815,303 819,309 824,313 831,321 841,325 849,329 856,338 859,349 858,357 852,366 846,368 841,362 837,353 833,352 826,345 820,332 815,322 809,316 802,316 794,315 787,312 778,309 769,307 765,312 762,318 765,325 771,332 775,340 781,347 789,353 799,357 809,362 816,368 820,372 814,374 802,371 790,369 780,366 772,363 765,365 766,356 762,347 758,340 758,332 759,322 756,318 750,313 743,310 734,306 725,301 716,296 709,288 699,285 694,276 690,271 687,265 677,259 668,258 658,259 662,269 655,271 659,282 664,291 659,303 655,315 652,326 650,337 655,347 662,357 672,367 682,382 692,395 697,410 702,425 707,435 719,447 729,460 739,472 749,485 757,497 763,507 759,515 749,517 742,520 732,525 722,525 721,517 729,512 742,507 744,497 737,490 727,485 712,482 697,487 689,495 689,505 697,512 704,520 712,527 709,535 719,535 721,540 712,545 704,550 697,555 687,560 674,567 662,571 652,572 658,577 671,573 687,582 699,584 709,587 718,587 722,594 725,601 740,610 759,611 762,616 759,622 765,627 770,630 778,634 787,639 790,645 797,650 803,658 812,661 820,662 831,664 844,669 853,675 859,681 865,689 866,695 862,703 857,710 860,725 865,740 867,752 869,767 865,780 857,784 850,782 845,772 840,760 832,755 827,757 822,747 812,745 802,745 795,735 790,730 793,722 785,716 775,715 760,720 745,725 735,735 725,732 720,730 720,724 712,721 701,722 694,719 699,713 709,709 720,707 735,704 746,702 756,700 757,694 750,689 739,685 724,683 712,685 701,683 692,681 682,677 675,672 667,666 662,659 656,666 651,672 645,664 636,651 630,649 626,655 619,659 607,661 596,664 589,662 581,659 570,659 555,655 540,659 529,655 517,659 506,662 499,668 491,662 484,655 474,651 469,662 457,668 444,664 440,650 432,635 425,622 420,610 412,600 405,590 400,577 395,562 389,547 385,540 380,530 372,520 362,510 352,500 345,490 332,482 322,475 312,462 315,450 304,445 305,435 312,424 320,415 327,410 325,402 327,394 335,382 336,372 330,361 335,355 350,347 375,340 379,336 380,332 385,312 392,300 397,285 405,271 420,269 425,257 436,246 435,230 424,212 424,197Z M720,728 722,740 732,750 737,760 735,772 740,785 752,790 765,797 780,805 790,820 780,827 765,832 750,837 740,847 732,850 722,840 712,827 705,817 695,807 685,800 677,797 675,807 680,822 685,837 690,855 697,870 705,885 710,897 715,915 720,930 727,942 729,955 727,967 730,977 735,990 741,1001 725,1000 712,992 704,997 710,990 707,982 702,972 695,965 687,960 687,952 682,940 675,936 660,939 652,945 647,955 645,962 637,972 640,985 641,1000 639,1010 635,1000 625,996 620,990 622,982 625,970 622,957 615,942 607,930 600,920 590,912 572,901 562,908 557,920 562,932 560,942 554,951 545,945 535,940 525,930 519,915 513,900 508,887 513,877 521,867 526,855 523,840 516,825 506,810 496,800 486,792 476,785 470,787 471,772 468,755 456,751 440,750 443,740 456,727 468,715 476,705 480,698 479,689 482,685 489,687 499,689 510,687 521,683 532,676 541,668 551,662 555,668 566,668 581,674 596,683 611,692 622,700 632,698 645,702 664,711 682,721 701,728Z M688,572 700,565 710,560 718,556 724,550 734,542 743,537 753,535 762,536 765,542 770,550 775,558 778,565 786,573 797,581 806,586 812,585 817,590 825,597 840,601 856,600 875,603 877,611 884,622 887,630 884,642 881,650 884,661 889,670 894,680 903,689 916,695 930,697 941,695 941,708 938,717 931,725 925,722 916,719 906,719 897,724 894,714 891,705 884,695 878,686 873,677 869,666 862,659 856,652 844,653 831,650 820,645 811,647 803,644 797,641 790,633 787,628 781,617 775,608 768,598 761,589 753,581 745,575 737,568 728,565 718,565 709,568 700,572Z M232,397 240,394 260,391 270,395 275,401 265,407 260,412 267,422 277,435 282,447 292,460 299,470 297,475 285,470 272,465 265,455 261,442 257,432 250,422 240,415 234,406Z M300,497 304,497 310,504 312,510 308,509 302,503Z M314,514 318,516 319,519 315,517Z M193,383 199,381 201,385 196,387Z M220,376 224,376 224,380 220,380Z M375,572 382,570 386,580 382,592 377,603 372,612 367,617 361,622 362,607 366,592 370,580Z M338,660 343,659 351,667 356,670 361,660 360,645 363,637 368,639 373,650 378,657 377,667 381,675 386,682 392,692 398,702 400,707 395,711 386,709 376,704 366,702 356,701 348,697 341,692 335,690 332,685 335,675 337,667Z M375,640 378,632 381,634 381,642 383,650 380,655 377,649Z M373,745 381,736 386,740 388,750 396,752 406,755 413,765 421,770 426,775 418,775 411,772 406,780 402,786 397,784 392,775 383,767 376,760 372,752Z M388,598 394,596 396,600 390,603Z M404,607 409,604 412,610 407,614Z M932,232 937,220 947,212 962,210 969,217 971,230 964,242 952,250 942,247 934,242Z M1065,269 1075,262 1090,265 1100,271 1100,280 1087,285 1075,280Z M1005,360 1017,354 1030,357 1040,360 1050,360 1055,354 1064,351 1064,362 1057,372 1052,382 1050,396 1042,395 1039,389 1032,390 1025,394 1020,387 1007,387 1010,375 1006,367Z M996,447 1002,439 1007,444 1002,452 999,456Z M1119,502 1125,492 1135,487 1150,487 1162,480 1175,470 1190,471 1202,480 1205,490 1212,502 1222,517 1230,532 1230,540 1220,544 1217,537 1213,528 1209,524 1210,535 1213,546 1195,546 1182,540 1167,540 1157,530 1147,522 1135,520 1125,512Z M764,511 770,507 777,509 775,515 768,516Z M798,505 807,512 817,517 826,520 822,526 812,525 804,520 799,512Z M834,512 842,502 849,492 853,497 847,507 839,516Z M862,477 869,476 870,483 864,484Z M876,465 882,463 882,470 877,470Z M900,473 903,472 904,479 901,479Z M870,524 874,523 875,529 871,529Z M922,547 932,550 937,560 947,570 954,577 949,585 939,585 932,577 924,567 919,557Z M908,572 912,571 913,575 909,576Z M1075,618 1080,614 1089,616 1089,625 1082,626 1078,622Z M1119,625 1125,617 1140,614 1155,615 1170,626 1185,632 1184,635 1172,631 1167,640 1172,652 1175,662 1167,672 1157,682 1150,690 1145,696 1135,687 1125,677 1130,670 1140,662 1142,652 1137,642 1127,637 1120,632Z M1225,772 1232,765 1250,760 1265,759 1275,765 1285,761 1296,765 1292,772 1282,777 1275,782 1265,787 1257,789 1252,780 1240,777 1230,780Z M1140,810 1147,797 1160,790 1175,785 1195,780 1190,787 1180,797 1167,802 1155,807 1145,811Z M1203,802 1209,797 1213,803 1219,800 1221,807 1214,810 1211,806 1206,809Z M1220,838 1226,836 1229,844 1225,853 1220,850 1223,844Z M1245,832 1252,830 1256,838 1257,850 1251,848 1247,840Z M1277,818 1284,816 1287,822 1279,824Z M1254,867 1262,865 1269,874 1270,882 1262,881 1257,875Z M1271,902 1274,890 1282,892 1290,900 1292,909 1285,914 1276,915Z M1301,912 1308,910 1311,915 1303,916Z M1275,947 1280,944 1290,937 1300,930 1312,922 1325,919 1336,922 1335,929 1322,932 1310,939 1300,945 1290,947 1284,955 1279,959 1275,954Z M1237,1017 1241,1015 1244,1019 1240,1022Z M1327,995 1335,995 1342,1002 1350,1007 1345,1012 1335,1006 1329,1002Z M1397,970 1405,964 1411,967 1411,980 1410,987 1402,980Z M1361,1038 1375,1036 1376,1041 1362,1043Z M1457,1012 1445,1010 1430,1017 1415,1027 1405,1037 1395,1047 1386,1051 1387,1057 1396,1060 1395,1075 1397,1085 1405,1092 1412,1087 1420,1077 1430,1065 1440,1055 1450,1042 1457,1030 1460,1020Z M1317.5,1096 1321,1098 1319,1115 1314,1130 1310,1145 1317.5,1156 1321,1167.5 1315.6,1177 1306,1184 1299,1175 1295,1160 1300.6,1149 1304,1134 1310,1119 1314,1104Z M1262,1184 1272,1178 1284,1178 1288,1183 1278,1188 1266,1191Z M1181,980 1185,975 1192,976 1197,967 1202,966 1207,972 1210,980 1202,980 1197,984 1194,989 1186,987Z M1106,938 1113,933 1125,928 1138,919 1150,914 1155,919 1146,925 1133,931 1121,938 1110,943Z M1057,905 1062,916 1075,912 1082,900 1086,885 1082,872 1075,867 1067,875 1060,888Z M1015,892 1022,881 1035,876 1040,882 1037,897 1027,906 1019,904Z M1003,902 1008,899 1011,906 1006,911Z M1037,942 1044,940 1052,947 1056,956 1052,965 1045,960 1039,952Z M1010,965 1017,958 1025,953 1026,956 1018,962 1012,967Z M985,972 992,966 996,968 990,975Z M1047,1000 1055,995 1065,999 1070,1010 1065,1019 1056,1017 1058,1008 1054,1002 1050,1010Z M1105,1014 1111,1009 1120,1016 1110,1019Z M1061,930 1069,928 1070,933 1062,934Z M1087,921 1096,920 1097,925 1088,926Z M1112,880 1118,879 1119,885 1113,886Z M1044,817 1055,814 1067,820 1062,825 1050,829 1045,824Z M996,782 1007,785 1020,790 1032,792 1037,800 1030,807 1017,802 1005,792Z M955,730 965,724 972,730 977,740 990,745 995,757 1000,770 995,777 987,772 977,760 967,752 960,742Z M982,835 984,822 986,812 992,820 995,830 989,836Z M951,794 960,789 964,796 955,797Z M895,807 899,790 905,782 910,790 907,800 900,807Z M871,785 875,769 878,770 874,786Z M909,847 912,830 917,817 922,827 925,832 917,840 912,850Z M917,875 925,866 932,870 931,880 922,882Z M948,897 954,892 960,900 962,912 956,916 950,908Z M902,965 905,952 915,945 930,945 935,955 927,960 921,954 915,957 915,962Z M932,934 939,932 942,939 935,942Z M944,942 950,940 952,947 946,949Z M889,938 893,937 894,942 890,942Z M775,767 782,764 792,765 790,775 782,781 776,775Z M772,725 780,720 790,722 792,732 785,740 777,745 771,737 778,731Z M758,776 763,775 763,780 758,780Z M770,806 779,803 781,808 772,810Z M765,847 780,840 795,836 790,841 775,847 766,850Z M752,850 760,848 760,852 753,853Z M727,857 734,855 737,860 729,861Z M697,1020 705,1012 710,1020 717,1030 729,1037 722,1045 720,1055 710,1052 702,1042 699,1030Z M752,1097 756,1100 761,1110 757,1109 753,1103Z M702,998 708,997 709,1002 703,1003Z M530,947 534,946 535,955 531,954Z M540,952 545,951 546,956 541,957Z M796,1142 800,1145 801,1165 814,1162 815,1137 819,1134 824,1137 825,1160 835,1162 855,1160 865,1152 880,1152 885,1160 882,1170 892,1175 895,1190 910,1192 930,1190 945,1185 955,1181 972,1182 985,1185 995,1180 1007,1185 1010,1195 1025,1195 1040,1195 1055,1196 1065,1200 1085,1195 1105,1200 1110,1210 1107,1222 1112,1232 1120,1235 1125,1227 1135,1222 1150,1217 1165,1215 1175,1210 1182,1202 1189,1200 1187,1210 1190,1220 1185,1232 1182,1245 1175,1252 1160,1252 1150,1250 1142,1245 1130,1247 1120,1250 1105,1252 1085,1255 1070,1257 1055,1257 1040,1260 1025,1262 1010,1266 995,1267 980,1267 965,1269 961,1265 964,1252 965,1240 957,1235 945,1237 935,1232 922,1227 910,1220 895,1217 880,1217 865,1220 850,1217 835,1212 820,1212 805,1214 792,1212 787,1205 790,1192 792,1180 795,1170 795,1155Z M862,1279 870,1276 876,1287 870,1286Z M1026,1178 1031,1175 1035,1179 1029,1181Z M1097,1275 1104,1274 1104,1277 1097,1278Z M1160,1262 1164,1260 1165,1267 1161,1268Z M1172,628 1180,627 1185,631 1176,632Z" fill="#c4c4c4"/>
<g clip-path="url(#grclip)"><g filter="url(#blur6)">
<ellipse cx="470" cy="330" rx="30" ry="90" transform="rotate(-8 470 330)" fill="#fff" opacity="0.9"/>
<ellipse cx="505" cy="520" rx="28" ry="80" transform="rotate(-15 505 520)" fill="#fff" opacity="0.9"/>
<ellipse cx="600" cy="610" rx="60" ry="28" transform="rotate(-10 600 610)" fill="#fff" opacity="0.9"/>
<ellipse cx="640" cy="365" rx="22" ry="30" transform="rotate(0 640 365)" fill="#fff" opacity="0.9"/>
<ellipse cx="930" cy="110" rx="90" ry="22" transform="rotate(8 930 110)" fill="#fff" opacity="0.9"/>
<ellipse cx="1090" cy="130" rx="60" ry="16" transform="rotate(0 1090 130)" fill="#fff" opacity="0.9"/>
<ellipse cx="560" cy="180" rx="50" ry="18" transform="rotate(-25 560 180)" fill="#fff" opacity="0.9"/>
<ellipse cx="620" cy="745" rx="45" ry="22" transform="rotate(10 620 745)" fill="#fff" opacity="0.9"/>
<ellipse cx="635" cy="900" rx="22" ry="55" transform="rotate(-12 635 900)" fill="#fff" opacity="0.9"/>
<ellipse cx="690" cy="900" rx="16" ry="50" transform="rotate(-15 690 900)" fill="#fff" opacity="0.9"/>
<ellipse cx="862" cy="1198" rx="22" ry="12" transform="rotate(0 862 1198)" fill="#fff" opacity="0.9"/>
<ellipse cx="975" cy="1212" rx="16" ry="11" transform="rotate(0 975 1212)" fill="#fff" opacity="0.9"/>
<ellipse cx="1088" cy="1228" rx="14" ry="10" transform="rotate(0 1088 1228)" fill="#fff" opacity="0.9"/>
<ellipse cx="840" cy="620" rx="45" ry="16" transform="rotate(25 840 620)" fill="#fff" opacity="0.9"/>
<ellipse cx="617" cy="238" rx="42" ry="18" transform="rotate(-8 617 238)" fill="#181818" opacity="0.95"/>
<ellipse cx="672" cy="212" rx="22" ry="12" transform="rotate(-40 672 212)" fill="#181818" opacity="0.95"/>
<ellipse cx="778" cy="165" rx="20" ry="38" transform="rotate(-28 778 165)" fill="#181818" opacity="0.95"/>
<ellipse cx="876" cy="168" rx="30" ry="15" transform="rotate(0 876 168)" fill="#181818" opacity="0.95"/>
<ellipse cx="1000" cy="172" rx="30" ry="12" transform="rotate(10 1000 172)" fill="#181818" opacity="0.95"/>
<ellipse cx="1066" cy="180" rx="42" ry="12" transform="rotate(5 1066 180)" fill="#181818" opacity="0.95"/>
<ellipse cx="1195" cy="92" rx="21" ry="44" transform="rotate(5 1195 92)" fill="#181818" opacity="0.95"/>
<ellipse cx="1172" cy="196" rx="12" ry="20" transform="rotate(20 1172 196)" fill="#181818" opacity="0.95"/>
<ellipse cx="643" cy="468" rx="38" ry="38" transform="rotate(0 643 468)" fill="#181818" opacity="0.95"/>
<ellipse cx="573" cy="482" rx="27" ry="38" transform="rotate(-18 573 482)" fill="#181818" opacity="0.95"/>
<ellipse cx="726" cy="288" rx="28" ry="15" transform="rotate(25 726 288)" fill="#181818" opacity="0.95"/>
<ellipse cx="465" cy="738" rx="28" ry="25" transform="rotate(0 465 738)" fill="#181818" opacity="0.95"/>
<ellipse cx="496" cy="795" rx="9" ry="34" transform="rotate(-33 496 795)" fill="#181818" opacity="0.95"/>
<ellipse cx="415" cy="515" rx="19" ry="10" transform="rotate(0 415 515)" fill="#181818" opacity="0.95"/>
<ellipse cx="476" cy="622" rx="15" ry="10" transform="rotate(0 476 622)" fill="#181818" opacity="0.95"/>
<ellipse cx="722" cy="641" rx="18" ry="16" transform="rotate(0 722 641)" fill="#181818" opacity="0.95"/>
<ellipse cx="1010" cy="1246" rx="27" ry="6" transform="rotate(0 1010 1246)" fill="#181818" opacity="0.95"/>
<ellipse cx="636" cy="578" rx="22" ry="6" transform="rotate(-8 636 578)" fill="#181818" opacity="0.95"/>
<ellipse cx="570" cy="886" rx="8" ry="14" transform="rotate(0 570 886)" fill="#181818" opacity="0.95"/>
<ellipse cx="628" cy="832" rx="9" ry="16" transform="rotate(0 628 832)" fill="#181818" opacity="0.95"/>
<ellipse cx="690" cy="170" rx="15" ry="22" transform="rotate(0 690 170)" fill="#181818" opacity="0.95"/>
<ellipse cx="545" cy="262" rx="10" ry="24" transform="rotate(15 545 262)" fill="#181818" opacity="0.95"/>
<ellipse cx="682" cy="788" rx="9" ry="11" transform="rotate(0 682 788)" fill="#181818" opacity="0.95"/>
<ellipse cx="838" cy="725" rx="14" ry="18" transform="rotate(20 838 725)" fill="#181818" opacity="0.95"/>
<ellipse cx="605" cy="150" rx="14" ry="8" transform="rotate(0 605 150)" fill="#181818" opacity="0.95"/>
</g></g></g>
<path d="M424,197 445,197 462,194 485,186 500,187 512,194 522,182 542,172 557,155 569,147 579,140 594,146 609,139 617,147 637,146 652,145 662,136 672,144 679,122 682,107 697,105 719,106 742,107 747,100 759,95 764,105 772,96 787,92 799,100 812,92 827,95 832,86 844,80 857,85 867,70 879,66 892,61 902,71 917,69 934,62 942,77 957,92 969,102 979,96 992,99 1007,105 1020,110 1035,122 1050,120 1070,115 1080,110 1097,112 1115,105 1132,110 1150,105 1162,97 1167,82 1165,65 1162,52 1155,45 1152,37 1162,30 1180,32 1192,30 1200,40 1212,45 1225,55 1230,75 1232,100 1225,112 1210,117 1195,122 1190,135 1195,155 1197,170 1187,182 1175,192 1167,207 1160,217 1150,220 1145,210 1135,200 1120,197 1100,192 1075,187 1055,185 1040,181 1025,179 1020,170 1010,172 1000,180 990,187 980,193 972,197 962,193 952,186 940,182 930,180 920,182 912,190 902,200 887,215 872,220 857,217 837,210 825,215 816,222 821,237 827,246 831,253 844,257 836,260 833,266 838,272 848,275 856,273 861,278 865,287 872,291 881,296 889,303 894,312 902,319 909,325 914,329 911,332 903,335 897,329 890,322 884,313 875,306 866,300 861,294 855,288 846,288 837,284 831,288 824,291 816,294 814,297 815,303 819,309 824,313 831,321 841,325 849,329 856,338 859,349 858,357 852,366 846,368 841,362 837,353 833,352 826,345 820,332 815,322 809,316 802,316 794,315 787,312 778,309 769,307 765,312 762,318 765,325 771,332 775,340 781,347 789,353 799,357 809,362 816,368 820,372 814,374 802,371 790,369 780,366 772,363 765,365 766,356 762,347 758,340 758,332 759,322 756,318 750,313 743,310 734,306 725,301 716,296 709,288 699,285 694,276 690,271 687,265 677,259 668,258 658,259 662,269 655,271 659,282 664,291 659,303 655,315 652,326 650,337 655,347 662,357 672,367 682,382 692,395 697,410 702,425 707,435 719,447 729,460 739,472 749,485 757,497 763,507 759,515 749,517 742,520 732,525 722,525 721,517 729,512 742,507 744,497 737,490 727,485 712,482 697,487 689,495 689,505 697,512 704,520 712,527 709,535 719,535 721,540 712,545 704,550 697,555 687,560 674,567 662,571 652,572 658,577 671,573 687,582 699,584 709,587 718,587 722,594 725,601 740,610 759,611 762,616 759,622 765,627 770,630 778,634 787,639 790,645 797,650 803,658 812,661 820,662 831,664 844,669 853,675 859,681 865,689 866,695 862,703 857,710 860,725 865,740 867,752 869,767 865,780 857,784 850,782 845,772 840,760 832,755 827,757 822,747 812,745 802,745 795,735 790,730 793,722 785,716 775,715 760,720 745,725 735,735 725,732 720,730 720,724 712,721 701,722 694,719 699,713 709,709 720,707 735,704 746,702 756,700 757,694 750,689 739,685 724,683 712,685 701,683 692,681 682,677 675,672 667,666 662,659 656,666 651,672 645,664 636,651 630,649 626,655 619,659 607,661 596,664 589,662 581,659 570,659 555,655 540,659 529,655 517,659 506,662 499,668 491,662 484,655 474,651 469,662 457,668 444,664 440,650 432,635 425,622 420,610 412,600 405,590 400,577 395,562 389,547 385,540 380,530 372,520 362,510 352,500 345,490 332,482 322,475 312,462 315,450 304,445 305,435 312,424 320,415 327,410 325,402 327,394 335,382 336,372 330,361 335,355 350,347 375,340 379,336 380,332 385,312 392,300 397,285 405,271 420,269 425,257 436,246 435,230 424,212 424,197Z M720,728 722,740 732,750 737,760 735,772 740,785 752,790 765,797 780,805 790,820 780,827 765,832 750,837 740,847 732,850 722,840 712,827 705,817 695,807 685,800 677,797 675,807 680,822 685,837 690,855 697,870 705,885 710,897 715,915 720,930 727,942 729,955 727,967 730,977 735,990 741,1001 725,1000 712,992 704,997 710,990 707,982 702,972 695,965 687,960 687,952 682,940 675,936 660,939 652,945 647,955 645,962 637,972 640,985 641,1000 639,1010 635,1000 625,996 620,990 622,982 625,970 622,957 615,942 607,930 600,920 590,912 572,901 562,908 557,920 562,932 560,942 554,951 545,945 535,940 525,930 519,915 513,900 508,887 513,877 521,867 526,855 523,840 516,825 506,810 496,800 486,792 476,785 470,787 471,772 468,755 456,751 440,750 443,740 456,727 468,715 476,705 480,698 479,689 482,685 489,687 499,689 510,687 521,683 532,676 541,668 551,662 555,668 566,668 581,674 596,683 611,692 622,700 632,698 645,702 664,711 682,721 701,728Z M688,572 700,565 710,560 718,556 724,550 734,542 743,537 753,535 762,536 765,542 770,550 775,558 778,565 786,573 797,581 806,586 812,585 817,590 825,597 840,601 856,600 875,603 877,611 884,622 887,630 884,642 881,650 884,661 889,670 894,680 903,689 916,695 930,697 941,695 941,708 938,717 931,725 925,722 916,719 906,719 897,724 894,714 891,705 884,695 878,686 873,677 869,666 862,659 856,652 844,653 831,650 820,645 811,647 803,644 797,641 790,633 787,628 781,617 775,608 768,598 761,589 753,581 745,575 737,568 728,565 718,565 709,568 700,572Z M232,397 240,394 260,391 270,395 275,401 265,407 260,412 267,422 277,435 282,447 292,460 299,470 297,475 285,470 272,465 265,455 261,442 257,432 250,422 240,415 234,406Z M300,497 304,497 310,504 312,510 308,509 302,503Z M314,514 318,516 319,519 315,517Z M193,383 199,381 201,385 196,387Z M220,376 224,376 224,380 220,380Z M375,572 382,570 386,580 382,592 377,603 372,612 367,617 361,622 362,607 366,592 370,580Z M338,660 343,659 351,667 356,670 361,660 360,645 363,637 368,639 373,650 378,657 377,667 381,675 386,682 392,692 398,702 400,707 395,711 386,709 376,704 366,702 356,701 348,697 341,692 335,690 332,685 335,675 337,667Z M375,640 378,632 381,634 381,642 383,650 380,655 377,649Z M373,745 381,736 386,740 388,750 396,752 406,755 413,765 421,770 426,775 418,775 411,772 406,780 402,786 397,784 392,775 383,767 376,760 372,752Z M388,598 394,596 396,600 390,603Z M404,607 409,604 412,610 407,614Z M932,232 937,220 947,212 962,210 969,217 971,230 964,242 952,250 942,247 934,242Z M1065,269 1075,262 1090,265 1100,271 1100,280 1087,285 1075,280Z M1005,360 1017,354 1030,357 1040,360 1050,360 1055,354 1064,351 1064,362 1057,372 1052,382 1050,396 1042,395 1039,389 1032,390 1025,394 1020,387 1007,387 1010,375 1006,367Z M996,447 1002,439 1007,444 1002,452 999,456Z M1119,502 1125,492 1135,487 1150,487 1162,480 1175,470 1190,471 1202,480 1205,490 1212,502 1222,517 1230,532 1230,540 1220,544 1217,537 1213,528 1209,524 1210,535 1213,546 1195,546 1182,540 1167,540 1157,530 1147,522 1135,520 1125,512Z M764,511 770,507 777,509 775,515 768,516Z M798,505 807,512 817,517 826,520 822,526 812,525 804,520 799,512Z M834,512 842,502 849,492 853,497 847,507 839,516Z M862,477 869,476 870,483 864,484Z M876,465 882,463 882,470 877,470Z M900,473 903,472 904,479 901,479Z M870,524 874,523 875,529 871,529Z M922,547 932,550 937,560 947,570 954,577 949,585 939,585 932,577 924,567 919,557Z M908,572 912,571 913,575 909,576Z M1075,618 1080,614 1089,616 1089,625 1082,626 1078,622Z M1119,625 1125,617 1140,614 1155,615 1170,626 1185,632 1184,635 1172,631 1167,640 1172,652 1175,662 1167,672 1157,682 1150,690 1145,696 1135,687 1125,677 1130,670 1140,662 1142,652 1137,642 1127,637 1120,632Z M1225,772 1232,765 1250,760 1265,759 1275,765 1285,761 1296,765 1292,772 1282,777 1275,782 1265,787 1257,789 1252,780 1240,777 1230,780Z M1140,810 1147,797 1160,790 1175,785 1195,780 1190,787 1180,797 1167,802 1155,807 1145,811Z M1203,802 1209,797 1213,803 1219,800 1221,807 1214,810 1211,806 1206,809Z M1220,838 1226,836 1229,844 1225,853 1220,850 1223,844Z M1245,832 1252,830 1256,838 1257,850 1251,848 1247,840Z M1277,818 1284,816 1287,822 1279,824Z M1254,867 1262,865 1269,874 1270,882 1262,881 1257,875Z M1271,902 1274,890 1282,892 1290,900 1292,909 1285,914 1276,915Z M1301,912 1308,910 1311,915 1303,916Z M1275,947 1280,944 1290,937 1300,930 1312,922 1325,919 1336,922 1335,929 1322,932 1310,939 1300,945 1290,947 1284,955 1279,959 1275,954Z M1237,1017 1241,1015 1244,1019 1240,1022Z M1327,995 1335,995 1342,1002 1350,1007 1345,1012 1335,1006 1329,1002Z M1397,970 1405,964 1411,967 1411,980 1410,987 1402,980Z M1361,1038 1375,1036 1376,1041 1362,1043Z M1457,1012 1445,1010 1430,1017 1415,1027 1405,1037 1395,1047 1386,1051 1387,1057 1396,1060 1395,1075 1397,1085 1405,1092 1412,1087 1420,1077 1430,1065 1440,1055 1450,1042 1457,1030 1460,1020Z M1317.5,1096 1321,1098 1319,1115 1314,1130 1310,1145 1317.5,1156 1321,1167.5 1315.6,1177 1306,1184 1299,1175 1295,1160 1300.6,1149 1304,1134 1310,1119 1314,1104Z M1262,1184 1272,1178 1284,1178 1288,1183 1278,1188 1266,1191Z M1181,980 1185,975 1192,976 1197,967 1202,966 1207,972 1210,980 1202,980 1197,984 1194,989 1186,987Z M1106,938 1113,933 1125,928 1138,919 1150,914 1155,919 1146,925 1133,931 1121,938 1110,943Z M1057,905 1062,916 1075,912 1082,900 1086,885 1082,872 1075,867 1067,875 1060,888Z M1015,892 1022,881 1035,876 1040,882 1037,897 1027,906 1019,904Z M1003,902 1008,899 1011,906 1006,911Z M1037,942 1044,940 1052,947 1056,956 1052,965 1045,960 1039,952Z M1010,965 1017,958 1025,953 1026,956 1018,962 1012,967Z M985,972 992,966 996,968 990,975Z M1047,1000 1055,995 1065,999 1070,1010 1065,1019 1056,1017 1058,1008 1054,1002 1050,1010Z M1105,1014 1111,1009 1120,1016 1110,1019Z M1061,930 1069,928 1070,933 1062,934Z M1087,921 1096,920 1097,925 1088,926Z M1112,880 1118,879 1119,885 1113,886Z M1044,817 1055,814 1067,820 1062,825 1050,829 1045,824Z M996,782 1007,785 1020,790 1032,792 1037,800 1030,807 1017,802 1005,792Z M955,730 965,724 972,730 977,740 990,745 995,757 1000,770 995,777 987,772 977,760 967,752 960,742Z M982,835 984,822 986,812 992,820 995,830 989,836Z M951,794 960,789 964,796 955,797Z M895,807 899,790 905,782 910,790 907,800 900,807Z M871,785 875,769 878,770 874,786Z M909,847 912,830 917,817 922,827 925,832 917,840 912,850Z M917,875 925,866 932,870 931,880 922,882Z M948,897 954,892 960,900 962,912 956,916 950,908Z M902,965 905,952 915,945 930,945 935,955 927,960 921,954 915,957 915,962Z M932,934 939,932 942,939 935,942Z M944,942 950,940 952,947 946,949Z M889,938 893,937 894,942 890,942Z M775,767 782,764 792,765 790,775 782,781 776,775Z M772,725 780,720 790,722 792,732 785,740 777,745 771,737 778,731Z M758,776 763,775 763,780 758,780Z M770,806 779,803 781,808 772,810Z M765,847 780,840 795,836 790,841 775,847 766,850Z M752,850 760,848 760,852 753,853Z M727,857 734,855 737,860 729,861Z M697,1020 705,1012 710,1020 717,1030 729,1037 722,1045 720,1055 710,1052 702,1042 699,1030Z M752,1097 756,1100 761,1110 757,1109 753,1103Z M702,998 708,997 709,1002 703,1003Z M530,947 534,946 535,955 531,954Z M540,952 545,951 546,956 541,957Z M796,1142 800,1145 801,1165 814,1162 815,1137 819,1134 824,1137 825,1160 835,1162 855,1160 865,1152 880,1152 885,1160 882,1170 892,1175 895,1190 910,1192 930,1190 945,1185 955,1181 972,1182 985,1185 995,1180 1007,1185 1010,1195 1025,1195 1040,1195 1055,1196 1065,1200 1085,1195 1105,1200 1110,1210 1107,1222 1112,1232 1120,1235 1125,1227 1135,1222 1150,1217 1165,1215 1175,1210 1182,1202 1189,1200 1187,1210 1190,1220 1185,1232 1182,1245 1175,1252 1160,1252 1150,1250 1142,1245 1130,1247 1120,1250 1105,1252 1085,1255 1070,1257 1055,1257 1040,1260 1025,1262 1010,1266 995,1267 980,1267 965,1269 961,1265 964,1252 965,1240 957,1235 945,1237 935,1232 922,1227 910,1220 895,1217 880,1217 865,1220 850,1217 835,1212 820,1212 805,1214 792,1212 787,1205 790,1192 792,1180 795,1170 795,1155Z M862,1279 870,1276 876,1287 870,1286Z M1026,1178 1031,1175 1035,1179 1029,1181Z M1097,1275 1104,1274 1104,1277 1097,1278Z M1160,1262 1164,1260 1165,1267 1161,1268Z M1172,628 1180,627 1185,631 1176,632Z" fill="none" stroke="#66666a" stroke-width="0.9" stroke-linejoin="round"/>
<path d="M394,525 410,522 425,530 435,537 447,547 450,557 445,565 435,562 425,557 412,555 402,557 395,560 392,552 387,547 394,537 392,530Z" fill="#fff" stroke="#5e5e62" stroke-width="1"/>
<path d="M1165,507 1175,504 1184,507 1180,515 1170,522 1162,522 1165,515Z" fill="#fff" stroke="#5e5e62" stroke-width="1"/>
<g fill="#2f8fa6">
<path d="M426,199 444,198 443,203 430,204Z"/>
<path d="M430,212 441,212 440,220 433,222Z"/>
<path d="M725,228 733,226 742,228 743,233 735,235 727,233Z"/>
<path d="M763,228 775,226 790,229 797,236 794,240 783,236 772,235 765,234Z"/>
<path d="M501,617 510,616 518,624 519,631 512,629 505,623Z"/>
<path d="M576,300 582,292 586,294 580,303 574,311 570,310Z"/>
<path d="M535,208 539,206 541,212 538,218 534,214Z"/>
<path d="M681,124 685,123 686,131 683,135 680,130Z"/>
<path d="M733,131 738,132 743,137 744,141 739,139 735,136Z"/>
<path d="M689,447 695,445 698,451 694,457 689,454Z"/>
<path d="M484,538 487,537 491,548 497,557 503,563 501,565 494,559 488,550Z"/>
<path d="M540,253 544,251 546,258 542,262Z"/>
<path d="M722,655 729,653 731,657 724,659Z"/>
<path d="M447,583 452,582 456,595 459,608 455,609 450,597Z"/>
</g>
<g stroke-width="1.15">
<circle cx="489" cy="209" r="11.65" fill="#c00000" stroke="#6e0000"/>
<circle cx="537" cy="231" r="11.65" fill="#c00000" stroke="#6e0000"/>
<circle cx="541" cy="250" r="11.65" fill="#f59332" stroke="#6a3800"/>
<circle cx="549" cy="274" r="11.65" fill="#c0e066" stroke="#3a4810"/>
<circle cx="541" cy="267" r="11.65" fill="#c0e066" stroke="#3a4810"/>
<circle cx="523" cy="304" r="11.65" fill="#c0e066" stroke="#3a4810"/>
<circle cx="552" cy="322" r="11.65" fill="#ff4d20" stroke="#7a1e00"/>
<circle cx="483" cy="329" r="11.65" fill="#c00000" stroke="#6e0000"/>
<circle cx="492" cy="320" r="11.65" fill="#c00000" stroke="#6e0000"/>
<circle cx="493" cy="330" r="11.65" fill="#c00000" stroke="#6e0000"/>
<circle cx="579" cy="173" r="11.65" fill="#800080" stroke="#4a004a"/>
<circle cx="697" cy="167" r="11.65" fill="#800080" stroke="#4a004a"/>
<circle cx="731" cy="120" r="11.65" fill="#800080" stroke="#4a004a"/>
<circle cx="639" cy="315" r="11.65" fill="#800080" stroke="#4a004a"/>
<circle cx="619" cy="242" r="11.65" fill="#c00000" stroke="#6e0000"/>
<circle cx="662" cy="246" r="11.65" fill="#c00000" stroke="#6e0000"/>
<circle cx="672" cy="242" r="11.65" fill="#c00000" stroke="#6e0000"/>
<circle cx="680" cy="239" r="11.65" fill="#c00000" stroke="#6e0000"/>
<circle cx="688" cy="236" r="11.65" fill="#c00000" stroke="#6e0000"/>
<circle cx="716" cy="245" r="11.65" fill="#c00000" stroke="#6e0000"/>
<circle cx="839" cy="106" r="11.65" fill="#c00000" stroke="#6e0000"/>
<circle cx="878" cy="147" r="11.65" fill="#ff4d20" stroke="#7a1e00"/>
<circle cx="911" cy="172" r="11.65" fill="#ff4d20" stroke="#7a1e00"/>
<circle cx="794" cy="186" r="11.65" fill="#ff4d20" stroke="#7a1e00"/>
<circle cx="817" cy="221" r="11.65" fill="#ff4d20" stroke="#7a1e00"/>
<circle cx="959" cy="212" r="11.65" fill="#c00000" stroke="#6e0000"/>
<circle cx="1123" cy="194" r="11.65" fill="#c00000" stroke="#6e0000"/>
<circle cx="1217" cy="102" r="11.65" fill="#f59332" stroke="#6a3800"/>
<circle cx="778" cy="287" r="11.65" fill="#ff4d20" stroke="#7a1e00"/>
<circle cx="827" cy="340" r="11.65" fill="#c00000" stroke="#6e0000"/>
<circle cx="381" cy="360" r="11.65" fill="#f59332" stroke="#6a3800"/>
<circle cx="403" cy="376" r="11.65" fill="#c0e066" stroke="#3a4810"/>
<circle cx="454" cy="400" r="11.65" fill="#f59332" stroke="#6a3800"/>
<circle cx="265" cy="423" r="11.65" fill="#c00000" stroke="#6e0000"/>
<circle cx="326" cy="442" r="11.65" fill="#c00000" stroke="#6e0000"/>
<circle cx="427" cy="510" r="11.65" fill="#c00000" stroke="#6e0000"/>
<circle cx="441" cy="523" r="11.65" fill="#800080" stroke="#4a004a"/>
<circle cx="488" cy="613" r="11.65" fill="#800080" stroke="#4a004a"/>
<circle cx="388" cy="658" r="11.65" fill="#800080" stroke="#4a004a"/>
<circle cx="355" cy="691" r="11.65" fill="#c00000" stroke="#6e0000"/>
<circle cx="538" cy="439" r="11.65" fill="#800080" stroke="#4a004a"/>
<circle cx="617" cy="415" r="11.65" fill="#c00000" stroke="#6e0000"/>
<circle cx="681" cy="410" r="11.65" fill="#c00000" stroke="#6e0000"/>
<circle cx="647" cy="428" r="11.65" fill="#c00000" stroke="#6e0000"/>
<circle cx="649" cy="437" r="11.65" fill="#c00000" stroke="#6e0000"/>
<circle cx="559" cy="464" r="11.65" fill="#c00000" stroke="#6e0000"/>
<circle cx="563" cy="505" r="11.65" fill="#c00000" stroke="#6e0000"/>
<circle cx="573" cy="519" r="11.65" fill="#c00000" stroke="#6e0000"/>
<circle cx="543" cy="500" r="11.65" fill="#ff4d20" stroke="#7a1e00"/>
<circle cx="631" cy="481" r="11.65" fill="#c00000" stroke="#6e0000"/>
<circle cx="622" cy="490" r="11.65" fill="#c00000" stroke="#6e0000"/>
<circle cx="610" cy="498" r="11.65" fill="#c00000" stroke="#6e0000"/>
<circle cx="651" cy="487" r="11.65" fill="#c00000" stroke="#6e0000"/>
<circle cx="659" cy="487" r="11.65" fill="#c00000" stroke="#6e0000"/>
<circle cx="632" cy="512" r="11.65" fill="#c00000" stroke="#6e0000"/>
<circle cx="640" cy="516" r="11.65" fill="#c00000" stroke="#6e0000"/>
<circle cx="624" cy="517" r="11.65" fill="#c00000" stroke="#6e0000"/>
<circle cx="652" cy="528" r="11.65" fill="#ff4d20" stroke="#7a1e00"/>
<circle cx="612" cy="535" r="11.65" fill="#c00000" stroke="#6e0000"/>
<circle cx="626" cy="537" r="11.65" fill="#c00000" stroke="#6e0000"/>
<circle cx="636" cy="560" r="11.65" fill="#c00000" stroke="#6e0000"/>
<circle cx="547" cy="560" r="11.65" fill="#ff4d20" stroke="#7a1e00"/>
<circle cx="784" cy="511" r="11.65" fill="#c00000" stroke="#6e0000"/>
<circle cx="733" cy="551" r="11.65" fill="#c00000" stroke="#6e0000"/>
<circle cx="590" cy="629" r="11.65" fill="#c00000" stroke="#6e0000"/>
<circle cx="644" cy="600" r="11.65" fill="#c00000" stroke="#6e0000"/>
<circle cx="662" cy="614" r="11.65" fill="#c00000" stroke="#6e0000"/>
<circle cx="682" cy="615" r="11.65" fill="#c00000" stroke="#6e0000"/>
<circle cx="656" cy="635" r="11.65" fill="#f59332" stroke="#6a3800"/>
<circle cx="742" cy="603" r="11.65" fill="#c00000" stroke="#6e0000"/>
<circle cx="808" cy="622" r="11.65" fill="#ff4d20" stroke="#7a1e00"/>
<circle cx="809" cy="635" r="11.65" fill="#c00000" stroke="#6e0000"/>
<circle cx="761" cy="669" r="11.65" fill="#c00000" stroke="#6e0000"/>
<circle cx="797" cy="664" r="11.65" fill="#c00000" stroke="#6e0000"/>
<circle cx="796" cy="676" r="11.65" fill="#c00000" stroke="#6e0000"/>
<circle cx="776" cy="705" r="11.65" fill="#c00000" stroke="#6e0000"/>
<circle cx="832" cy="706" r="11.65" fill="#ff4d20" stroke="#7a1e00"/>
<circle cx="839" cy="715" r="11.65" fill="#ff4d20" stroke="#7a1e00"/>
<circle cx="810" cy="719" r="11.65" fill="#c00000" stroke="#6e0000"/>
<circle cx="815" cy="725" r="11.65" fill="#c00000" stroke="#6e0000"/>
<circle cx="804" cy="735" r="11.65" fill="#c00000" stroke="#6e0000"/>
<circle cx="820" cy="730" r="11.65" fill="#c00000" stroke="#6e0000"/>
<circle cx="812" cy="738" r="11.65" fill="#c00000" stroke="#6e0000"/>
<circle cx="845" cy="727" r="11.65" fill="#c00000" stroke="#6e0000"/>
<circle cx="847" cy="744" r="11.65" fill="#c00000" stroke="#6e0000"/>
<circle cx="845" cy="755" r="11.65" fill="#ff4d20" stroke="#7a1e00"/>
<circle cx="852" cy="759" r="11.65" fill="#ff4d20" stroke="#7a1e00"/>
<circle cx="542" cy="673" r="11.65" fill="#c00000" stroke="#6e0000"/>
<circle cx="533" cy="683" r="11.65" fill="#c00000" stroke="#6e0000"/>
<circle cx="543" cy="684" r="11.65" fill="#c00000" stroke="#6e0000"/>
<circle cx="570" cy="676" r="11.65" fill="#c00000" stroke="#6e0000"/>
<circle cx="586" cy="690" r="11.65" fill="#c00000" stroke="#6e0000"/>
<circle cx="602" cy="696" r="11.65" fill="#ff4d20" stroke="#7a1e00"/>
<circle cx="519" cy="698" r="11.65" fill="#800080" stroke="#4a004a"/>
<circle cx="507" cy="699" r="11.65" fill="#800080" stroke="#4a004a"/>
<circle cx="496" cy="705" r="11.65" fill="#c00000" stroke="#6e0000"/>
<circle cx="540" cy="705" r="11.65" fill="#c00000" stroke="#6e0000"/>
<circle cx="513" cy="727" r="11.65" fill="#c00000" stroke="#6e0000"/>
<circle cx="561" cy="722" r="11.65" fill="#c00000" stroke="#6e0000"/>
<circle cx="538" cy="734" r="11.65" fill="#ff4d20" stroke="#7a1e00"/>
<circle cx="450" cy="736" r="11.65" fill="#c00000" stroke="#6e0000"/>
<circle cx="491" cy="784" r="11.65" fill="#800080" stroke="#4a004a"/>
<circle cx="687" cy="738" r="11.65" fill="#c00000" stroke="#6e0000"/>
<circle cx="706" cy="745" r="11.65" fill="#c00000" stroke="#6e0000"/>
<circle cx="665" cy="754" r="11.65" fill="#c00000" stroke="#6e0000"/>
<circle cx="686" cy="752" r="11.65" fill="#c00000" stroke="#6e0000"/>
<circle cx="631" cy="812" r="11.65" fill="#ff4d20" stroke="#7a1e00"/>
<circle cx="588" cy="834" r="11.65" fill="#c00000" stroke="#6e0000"/>
<circle cx="736" cy="835" r="11.65" fill="#c00000" stroke="#6e0000"/>
<circle cx="766" cy="811" r="11.65" fill="#c00000" stroke="#6e0000"/>
<circle cx="512" cy="875" r="11.65" fill="#c00000" stroke="#6e0000"/>
<circle cx="584" cy="899" r="11.65" fill="#800080" stroke="#4a004a"/>
<circle cx="635" cy="894" r="11.65" fill="#c00000" stroke="#6e0000"/>
<circle cx="720" cy="961" r="11.65" fill="#ff4d20" stroke="#7a1e00"/>
<circle cx="1030" cy="374" r="11.65" fill="#c00000" stroke="#6e0000"/>
<circle cx="1175" cy="480" r="11.65" fill="#c00000" stroke="#6e0000"/>
<circle cx="1174" cy="487" r="11.65" fill="#c00000" stroke="#6e0000"/>
<circle cx="1140" cy="499" r="11.65" fill="#c00000" stroke="#6e0000"/>
<circle cx="1160" cy="626" r="11.65" fill="#c00000" stroke="#6e0000"/>
<circle cx="1162" cy="657" r="11.65" fill="#c00000" stroke="#6e0000"/>
<circle cx="1145" cy="676" r="11.65" fill="#c00000" stroke="#6e0000"/>
<circle cx="1245" cy="761" r="11.65" fill="#c00000" stroke="#6e0000"/>
<circle cx="1168" cy="791" r="11.65" fill="#c00000" stroke="#6e0000"/>
<circle cx="915" cy="784" r="11.65" fill="#ff4d20" stroke="#7a1e00"/>
<circle cx="1054" cy="885" r="11.65" fill="#ff4d20" stroke="#7a1e00"/>
<circle cx="955" cy="906" r="11.65" fill="#ff4d20" stroke="#7a1e00"/>
<circle cx="1129" cy="934" r="11.65" fill="#f59332" stroke="#6a3800"/>
<circle cx="989" cy="969" r="11.65" fill="#f59332" stroke="#6a3800"/>
<circle cx="1307" cy="972" r="11.65" fill="#c00000" stroke="#6e0000"/>
<circle cx="1461" cy="1005" r="11.65" fill="#ff4d20" stroke="#7a1e00"/>
<circle cx="1409" cy="1041" r="11.65" fill="#c00000" stroke="#6e0000"/>
<circle cx="1442" cy="1065" r="11.65" fill="#c00000" stroke="#6e0000"/>
<circle cx="1397" cy="1089" r="11.65" fill="#ff4d20" stroke="#7a1e00"/>
<circle cx="806" cy="1192" r="11.65" fill="#c00000" stroke="#6e0000"/>
<circle cx="822" cy="1180" r="11.65" fill="#ff4d20" stroke="#7a1e00"/>
<circle cx="831" cy="1172" r="11.65" fill="#c00000" stroke="#6e0000"/>
<circle cx="815" cy="1169" r="11.65" fill="#c00000" stroke="#6e0000"/>
<circle cx="845" cy="1176" r="11.65" fill="#ff4d20" stroke="#7a1e00"/>
<circle cx="864" cy="1172" r="11.65" fill="#c00000" stroke="#6e0000"/>
<circle cx="867" cy="1161" r="11.65" fill="#c00000" stroke="#6e0000"/>
<circle cx="852" cy="1204" r="11.65" fill="#c00000" stroke="#6e0000"/>
<circle cx="861" cy="1216" r="11.65" fill="#ff4d20" stroke="#7a1e00"/>
<circle cx="912" cy="1206" r="11.65" fill="#ff4d20" stroke="#7a1e00"/>
<circle cx="959" cy="1219" r="11.65" fill="#ff4d20" stroke="#7a1e00"/>
<circle cx="974" cy="1252" r="11.65" fill="#c00000" stroke="#6e0000"/>
<circle cx="994" cy="1255" r="11.65" fill="#800080" stroke="#4a004a"/>
<circle cx="992" cy="1245" r="11.65" fill="#800080" stroke="#4a004a"/>
<circle cx="1029" cy="1219" r="11.65" fill="#ff4d20" stroke="#7a1e00"/>
<circle cx="1077" cy="1220" r="11.65" fill="#ff4d20" stroke="#7a1e00"/>
<circle cx="1075" cy="1202" r="11.65" fill="#c00000" stroke="#6e0000"/>
<circle cx="1097" cy="1196" r="11.65" fill="#f59332" stroke="#6a3800"/>
<circle cx="1108" cy="1253" r="11.65" fill="#c00000" stroke="#6e0000"/>
<circle cx="1158" cy="1220" r="11.65" fill="#ff4d20" stroke="#7a1e00"/>
</g>
<g id="noa" fill="none" stroke="#77777b" stroke-width="1">
<circle cx="103.6" cy="1263.6" r="67" stroke-width="1.6"/><circle cx="103.6" cy="1263.6" r="64.6" stroke-width=".7"/>
<circle cx="103.6" cy="1263.6" r="50" stroke-width="1.1"/>
<path id="ringT" d="M46.5,1263.6 A57.1,57.1 0 0 1 160.7,1263.6" stroke="none"/>
<path id="ringB" d="M43.2,1263.6 A60.4,60.4 0 0 0 164,1263.6" stroke="none"/>
<text font-family="Liberation Serif, serif" font-size="9.6" fill="#66666a" stroke="none" letter-spacing=".35"><textPath href="#ringT" startOffset="50%" text-anchor="middle">ΕΘΝΙΚΟΝ ΑΣΤΕΡΟΣΚΟΠΕΙΟΝ ΑΘΗΝΩΝ</textPath></text>
<text font-family="Liberation Serif, serif" font-size="9.6" fill="#66666a" stroke="none" letter-spacing=".2"><textPath href="#ringB" startOffset="50%" text-anchor="middle">NATIONAL OBSERVATORY OF ATHENS</textPath></text>
<circle cx="42.5" cy="1264" r="1.4" fill="#66666a" stroke="none"/><circle cx="164.6" cy="1264" r="1.4" fill="#66666a" stroke="none"/>
<g stroke="#6e6e72" stroke-width=".9">
<circle cx="88" cy="1263" r="17.5"/><path d="M71,1260 Q88,1252 105,1260 M71.5,1267 Q88,1260 104.5,1267 M80,1248 Q76,1263 81,1278 M88,1245.5 L88,1280.5 M96,1248 Q100,1263 95,1278"/>
<path d="M90,1246 L91,1228 L94,1228 L95,1246 M88,1232 L97,1232"/>
<path d="M78,1281 L98,1281 M82,1281 Q84,1292 78,1303 M94,1281 Q92,1292 98,1303 M72,1304 L104,1304 M86,1283 L86,1302 M90,1283 L90,1302"/>
<path d="M110,1224 Q106,1218 111,1214 Q117,1212 119,1218 Q120,1224 115,1227 Q122,1230 124,1240 Q128,1262 126,1284 Q127,1296 131,1306 L108,1306 Q110,1292 106,1280 Q102,1262 104,1246 Q104,1234 110,1229 Z"/>
<path d="M112,1232 Q114,1258 110,1304 M118,1232 Q122,1262 118,1304 M124,1244 Q123,1280 126,1304 M104,1246 Q98,1250 96,1256 M108,1240 L99,1236"/>
<path d="M66,1308 L140,1308"/>
</g></g>
<g id="meteo">
<path d="M228.5,1238.2 L250.2,1238.2 L287.7,1262.8 L314.9,1238.2 L346.6,1238.2 L346.6,1304.2 L316.2,1304.2 L316.2,1284.4 Q302,1289 287.7,1302.7 Q273,1289 259,1284.4 L259,1304.2 L228.5,1304.2 Z" fill="#0a24d6"/>
<circle cx="227.8" cy="1238.2" r="20.3" fill="#ffc70a"/>
</g>
</svg>
<div id="title"></div>
<div id="legend">
  <div class="cell" style="left:0;top:96px;width:230.5px;height:77px;background:#7c087e"></div>
  <div class="cell" style="left:0;top:173px;width:230.5px;height:77.2px;background:#c00000"></div>
  <div class="cell" style="left:0;top:250.2px;width:230.5px;height:77.5px;background:#ff4a1c"></div>
  <div class="cell" style="left:0;top:327.7px;width:230.5px;height:77.5px;background:#f08c2e"></div>
  <div class="cell" style="left:0;top:405.2px;width:230.5px;height:78.3px;background:#bde05a"></div>
  <div class="cell" style="left:629.8px;top:96px;width:74.9px;height:309.2px;background:#c00000"></div>
  <div class="vl" style="left:230px;top:0;height:96px"></div>
  <div class="hl" style="left:0;top:95.5px;width:704.7px"></div>
  <div class="hl" style="left:230.5px;top:172.5px;width:399.3px"></div>
  <div class="hl" style="left:230.5px;top:249.7px;width:399.3px"></div>
  <div class="hl" style="left:230.5px;top:327.2px;width:399.3px"></div>
  <div class="hl" style="left:230.5px;top:404.7px;width:474.2px"></div>
</div>
<div class="abs b" id="t0" style="left:1492.4px;top:31.3px;font-size:28.12px;color:#8e8e90;transform-origin:0 0;transform:scaleX(1.0578);">Δεδομένα από: 165 σταθμούς</div>
<div class="abs b" id="t1" style="left:1310.8px;top:117.2px;font-size:45.94px;color:#ffffff;transform-origin:0 0;transform:scaleX(1.0302);">Δείκτης θερμικής καταπόνησης</div>
<div class="abs b" id="t2" style="left:1455.9px;top:167.2px;font-size:45.94px;color:#ffffff;transform-origin:0 0;transform:scaleX(1.1890);">19/07/2024 15:40</div>
<div class="abs b" id="l0" style="left:1350.5px;top:292.4px;font-size:37.68px;color:#c6c6c8;transform-origin:0 0;transform:scaleX(1.0535);text-shadow:1px 1px 2px #000;">UTCI [°C]</div>
<div class="abs b" id="l1" style="left:1594.6px;top:299.2px;font-size:25.51px;color:#d6d6d8;transform-origin:0 0;transform:scaleX(0.9693);">Κλίμακα θερμικής καταπόνησης</div>
<div class="abs" id="r1" style="left:1385.6px;top:379.3px;font-size:38.12px;color:#f0e4f0;transform-origin:0 0;transform:scaleX(1.0462);text-shadow:1px 2px 2px rgba(0,0,0,.6);">&gt; +46</div>
<div class="abs" id="r2" style="left:1340.6px;top:454.8px;font-size:38.12px;color:#f3e3e0;transform-origin:0 0;transform:scaleX(0.9973);text-shadow:1px 2px 2px rgba(0,0,0,.6);">+38 με +46</div>
<div class="abs" id="r3" style="left:1338.9px;top:532.8px;font-size:38.12px;color:#f5e8e0;transform-origin:0 0;transform:scaleX(0.9914);text-shadow:1px 2px 2px rgba(0,0,0,.55);">+32 με +38</div>
<div class="abs" id="r4" style="left:1339.6px;top:610.8px;font-size:38.12px;color:#f1e6d6;transform-origin:0 0;transform:scaleX(0.9950);text-shadow:1px 2px 2px rgba(0,0,0,.55);">+26 με +32</div>
<div class="abs" id="r5" style="left:1349.3px;top:688.8px;font-size:38.12px;color:#dde6c2;transform-origin:0 0;transform:scaleX(0.9996);text-shadow:1px 2px 2px rgba(0,0,0,.5);">+9 με +26</div>
<div class="abs" id="c1" style="left:1689.2px;top:378.7px;font-size:35.94px;color:#e6e6e8;transform-origin:0 0;transform:scaleX(0.8699);">Ακραία</div>
<div class="abs" id="c2" style="left:1646.7px;top:454.9px;font-size:35.94px;color:#e6e6e8;transform-origin:0 0;transform:scaleX(0.9148);">Πολύ ισχυρή</div>
<div class="abs" id="c3" style="left:1682.7px;top:532.8px;font-size:35.94px;color:#e6e6e8;transform-origin:0 0;transform:scaleX(0.9350);">Ισχυρή</div>
<div class="abs" id="c4" style="left:1680.7px;top:609.9px;font-size:35.94px;color:#e6e6e8;transform-origin:0 0;transform:scaleX(0.9182);">Μέτρια</div>
<div class="abs" id="c5" style="left:1575.6px;top:691.5px;font-size:31.59px;color:#e6e6e8;transform-origin:0 0;transform:scaleX(0.9195);">Χωρίς θερμική καταπόνηση</div>
<div class="abs b" id="k0" style="left:1478.7px;top:1100.1px;font-size:28.41px;color:#2e2e32;transform-origin:0 0;transform:scaleX(1.0615);">Καταπόνηση λόγω ζέστης</div>
<div class="abs b" id="k1" style="left:1480.0px;top:1140.9px;font-size:23.19px;color:#8b8b8d;transform-origin:0 0;transform:scaleX(1.0862);">Ακραία: 15 σταθμοί</div>
<div class="abs b" id="k2" style="left:1479.0px;top:1168.9px;font-size:23.19px;color:#8b8b8d;transform-origin:0 0;transform:scaleX(1.0946);">Πολύ ισχυρή: 106 σταθμοί</div>
<div class="abs b" id="k3" style="left:1479.0px;top:1196.7px;font-size:23.19px;color:#8b8b8d;transform-origin:0 0;transform:scaleX(1.1138);">Ισχυρή: 32 σταθμοί</div>
<div class="abs b" id="k4" style="left:1479.0px;top:1224.6px;font-size:23.19px;color:#8b8b8d;transform-origin:0 0;transform:scaleX(1.1128);">Μέτρια: 8 σταθμοί</div>
<div class="abs b" id="k5" style="left:1480.6px;top:1252.6px;font-size:23.19px;color:#8b8b8d;transform-origin:0 0;transform:scaleX(1.0721);">Χωρίς θερμική καταπόνηση: 4 σταθμοί</div>
<div class="abs b" id="cp" style="left:1387.6px;top:1319.9px;font-size:29.28px;color:#838385;transform-origin:0 0;transform:scaleX(1.0564);">© Εθνικό Αστεροσκοπείο Αθηνών - meteo.gr</div>
<div class="abs" id="m0" style="left:360.3px;top:1233.7px;font-size:31.30px;color:#2232a8;transform-origin:0 0;transform:scaleX(1.1133);">Meteo</div>
<div class="abs" id="m1" style="left:363.6px;top:1273.2px;font-size:16.23px;color:#2232a8;transform-origin:0 0;transform:scaleX(1.1237);">Όλα για</div>
<div class="abs" id="m2" style="left:362.9px;top:1290.9px;font-size:16.23px;color:#2232a8;transform-origin:0 0;transform:scaleX(1.1582);">τον καιρό</div>
<div class="abs b" id="z" style="left:1972.4px;top:559.1px;font-size:31.74px;color:#fff;transform-origin:0 0;transform:rotate(-90deg) scaleX(0.9871);">Ζέστη</div>
</body></html>
